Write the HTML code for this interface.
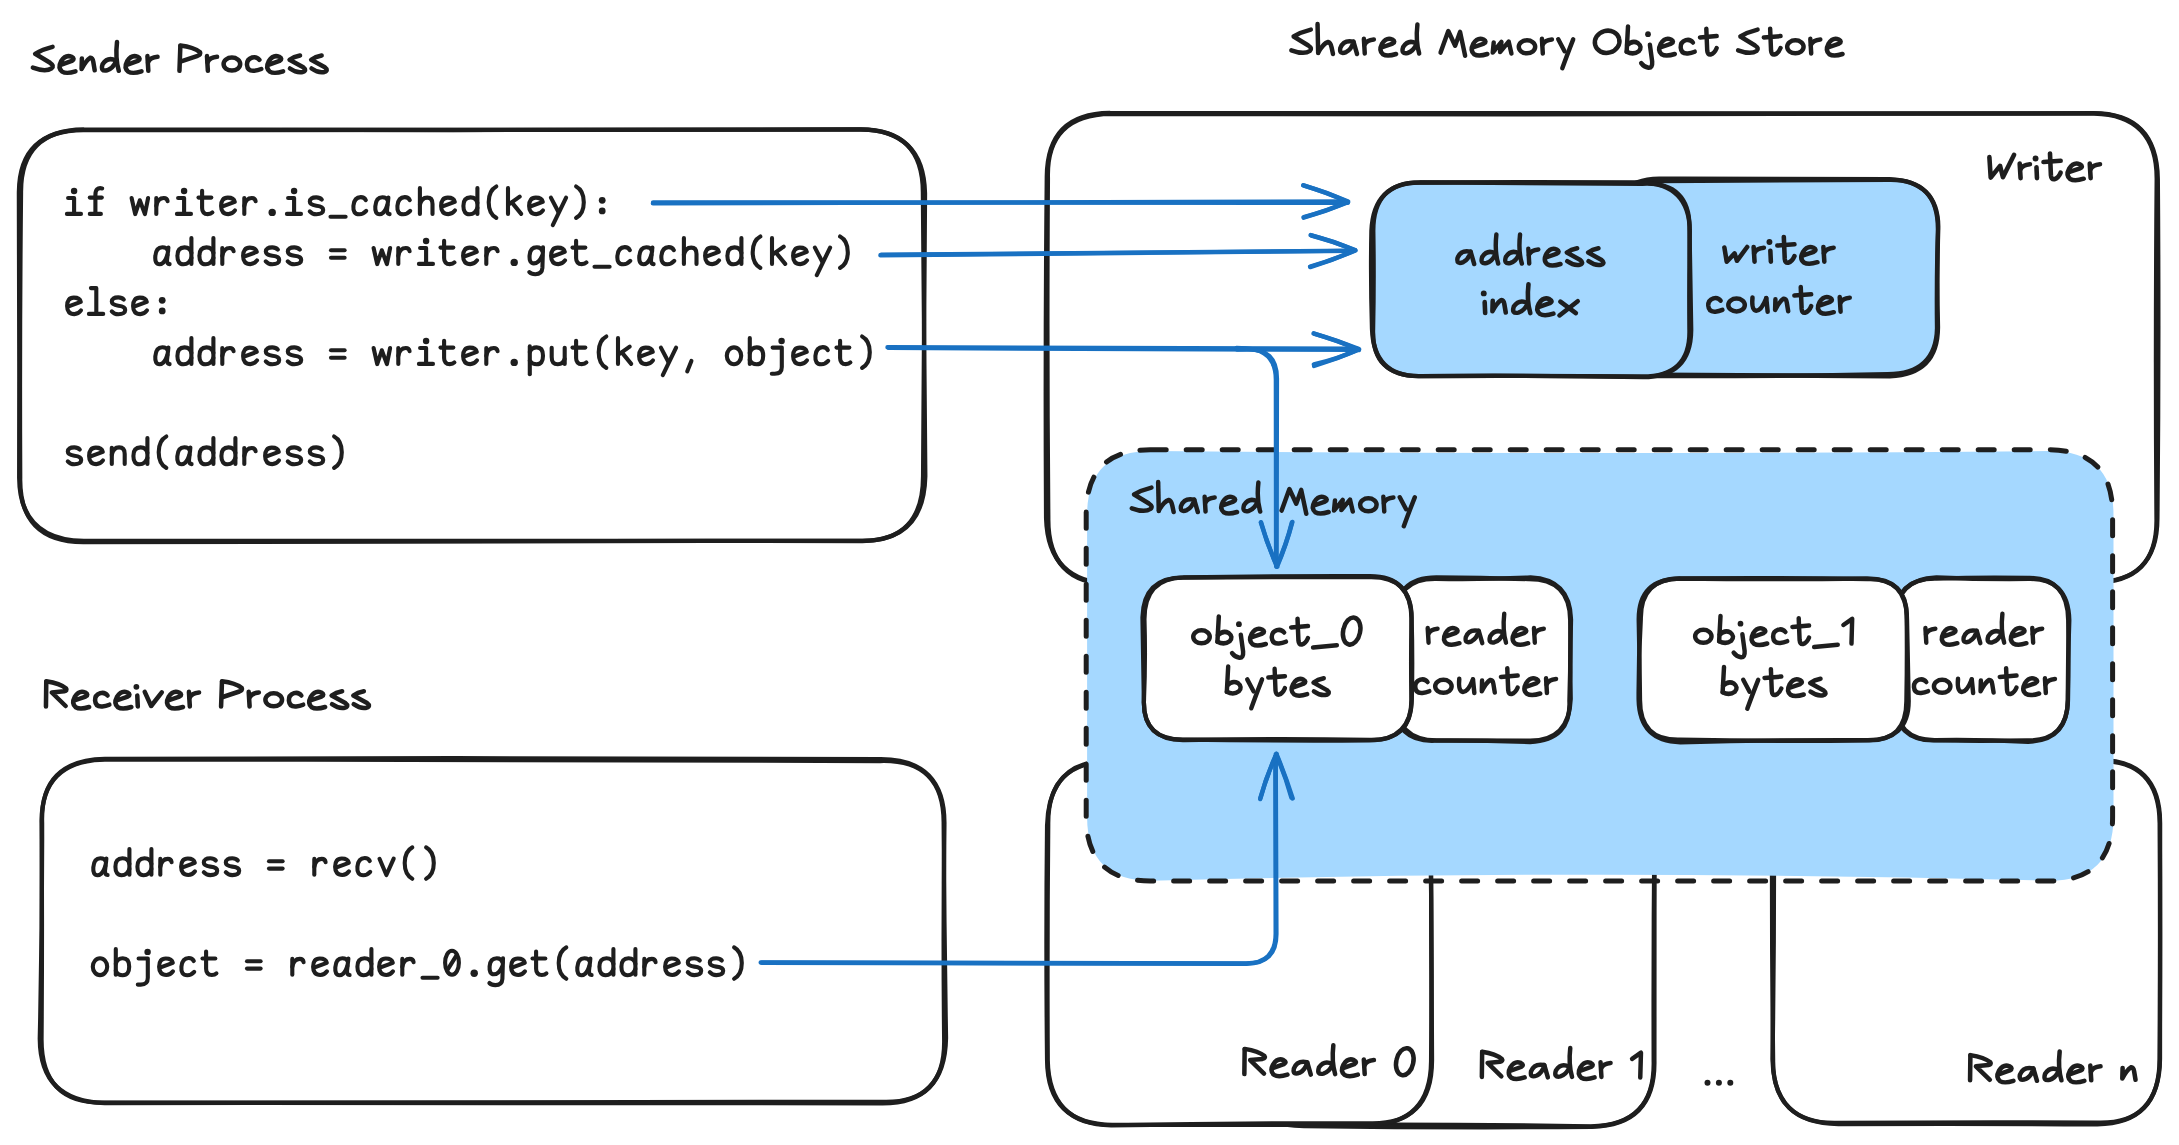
<!DOCTYPE html>
<html><head><meta charset="utf-8"><title>Shared Memory Object Store</title>
<style>
html,body{margin:0;padding:0;background:#fff;}
body{width:2179px;height:1145px;overflow:hidden;}
svg{display:block;}
.h{font-family:"Liberation Sans",sans-serif;fill:#1e1e1e;fill-opacity:0;stroke:none;}
.c{font-family:"Liberation Mono",monospace;fill:#1e1e1e;fill-opacity:0;stroke:none;white-space:pre;}
</style></head><body>
<svg width="2179" height="1145" viewBox="0 0 2179 1145">
<rect width="2179" height="1145" fill="#fff"/>
<path d="M83.3 130.2 Q471.2 128.5 859.0 129.5 Q922.8 128.4 922.9 192.3 Q924.5 334.3 925.3 476.2 Q923.8 542.0 860.4 540.9 Q472.1 540.5 83.9 541.0 Q19.7 540.0 19.2 477.9 Q19.6 335.1 18.9 192.3 Q19.4 130.3 83.3 130.2" fill="none" stroke="#1e1e1e" stroke-width="4.3" stroke-linejoin="round" stroke-linecap="round"/>
<path d="M83.6 129.5 Q471.8 130.5 860.0 129.4 Q923.6 130.0 925.0 193.2 Q924.1 334.5 923.1 475.9 Q923.1 541.7 861.2 541.0 Q472.2 540.6 83.2 542.2 Q19.0 541.5 20.2 477.6 Q19.5 335.0 21.0 192.4 Q20.5 130.2 83.6 129.5" fill="none" stroke="#1e1e1e" stroke-width="4.3" stroke-linejoin="round" stroke-linecap="round"/>
<path d="M104.9 759.7 Q492.5 759.0 880.1 761.0 Q944.3 759.0 943.7 824.0 Q944.2 931.0 946.0 1037.9 Q945.0 1104.1 881.1 1103.3 Q492.5 1103.6 103.8 1102.7 Q41.2 1103.7 41.5 1038.9 Q42.3 931.0 41.6 823.1 Q40.7 760.6 104.9 759.7" fill="none" stroke="#1e1e1e" stroke-width="4.3" stroke-linejoin="round" stroke-linecap="round"/>
<path d="M104.8 758.9 Q492.6 757.5 880.4 759.2 Q945.3 759.0 944.4 824.8 Q943.0 932.4 944.2 1040.0 Q945.2 1104.0 882.0 1101.8 Q493.3 1102.4 104.7 1103.0 Q40.2 1101.7 39.8 1038.8 Q42.3 930.9 42.1 823.0 Q39.9 760.1 104.8 758.9" fill="none" stroke="#1e1e1e" stroke-width="4.3" stroke-linejoin="round" stroke-linecap="round"/>
<path d="M1111.2 113.8 Q1602.2 115.1 2093.2 113.2 Q2156.7 113.4 2157.8 178.8 Q2159.1 348.5 2157.4 518.1 Q2157.5 582.9 2093.1 582.6 Q1601.7 583.7 1110.3 584.2 Q1047.5 583.4 1048.3 517.8 Q1046.7 348.0 1047.9 178.3 Q1046.0 114.7 1111.2 113.8" fill="none" stroke="#1e1e1e" stroke-width="4.3" stroke-linejoin="round" stroke-linecap="round"/>
<path d="M1109.7 113.0 Q1601.9 113.6 2094.1 113.5 Q2157.0 114.8 2156.7 179.0 Q2155.3 349.1 2156.5 519.1 Q2157.4 583.1 2092.8 581.9 Q1602.0 583.8 1111.2 583.9 Q1047.9 582.1 1046.1 518.3 Q1045.1 347.5 1046.8 176.8 Q1047.2 113.7 1109.7 113.0" fill="none" stroke="#1e1e1e" stroke-width="4.3" stroke-linejoin="round" stroke-linecap="round"/>
<path d="M1303.9 762.2 Q1447.7 761.0 1591.6 761.9 Q1655.8 763.2 1654.5 826.2 Q1653.3 943.9 1653.7 1061.5 Q1654.9 1125.8 1590.8 1126.3 Q1446.9 1124.1 1302.9 1125.0 Q1239.1 1124.2 1238.9 1062.3 Q1239.6 943.6 1240.5 824.8 Q1240.1 760.9 1303.9 762.2" fill="none" stroke="#1e1e1e" stroke-width="4.3" stroke-linejoin="round" stroke-linecap="round"/>
<path d="M1303.8 762.9 Q1447.2 763.9 1590.5 762.4 Q1655.2 761.7 1654.5 826.4 Q1654.3 943.7 1654.4 1060.9 Q1655.4 1125.2 1591.8 1126.8 Q1448.3 1128.0 1304.9 1126.0 Q1241.2 1126.4 1239.5 1060.8 Q1239.2 942.8 1239.5 824.9 Q1238.7 761.2 1303.8 762.9" fill="none" stroke="#1e1e1e" stroke-width="4.3" stroke-linejoin="round" stroke-linecap="round"/>
<path d="M1112 760.5 L1367.7 760.5 Q1431.7 760.5 1431.7 824.5 L1431.7 1060.5 Q1431.7 1124.5 1367.7 1124.5 L1112 1124.5 Q1048 1124.5 1048 1060.5 L1048 824.5 Q1048 760.5 1112 760.5 Z" fill="#fff" stroke="none"/>
<path d="M1111.9 760.9 Q1240.0 758.8 1368.1 759.6 Q1430.6 761.3 1430.4 824.2 Q1432.1 942.7 1431.1 1061.3 Q1430.6 1125.0 1368.2 1124.8 Q1240.2 1124.9 1112.2 1124.9 Q1047.6 1124.3 1047.1 1060.3 Q1045.8 942.9 1047.1 825.6 Q1048.9 759.2 1111.9 760.9" fill="none" stroke="#1e1e1e" stroke-width="4.3" stroke-linejoin="round" stroke-linecap="round"/>
<path d="M1113.3 761.7 Q1240.0 761.6 1366.7 760.3 Q1431.4 759.3 1430.8 824.0 Q1431.9 941.8 1432.0 1059.6 Q1432.3 1125.7 1368.2 1123.3 Q1239.7 1123.1 1111.1 1125.3 Q1049.2 1124.9 1047.7 1060.3 Q1047.1 942.4 1048.2 824.4 Q1047.6 760.1 1113.3 761.7" fill="none" stroke="#1e1e1e" stroke-width="4.3" stroke-linejoin="round" stroke-linecap="round"/>
<path d="M1836.4 760.5 Q1966.7 762.1 2097.0 760.9 Q2159.2 759.4 2159.7 823.3 Q2160.6 941.1 2159.6 1058.9 Q2159.6 1124.6 2097.1 1122.6 Q1967.1 1122.0 1837.1 1122.9 Q1773.8 1124.4 1772.5 1059.4 Q1774.3 941.9 1773.9 824.3 Q1773.8 760.6 1836.4 760.5" fill="none" stroke="#1e1e1e" stroke-width="4.3" stroke-linejoin="round" stroke-linecap="round"/>
<path d="M1837.0 760.7 Q1966.8 759.1 2096.7 759.8 Q2160.4 759.2 2160.1 823.8 Q2160.1 941.2 2160.0 1058.6 Q2159.7 1123.7 2097.3 1124.4 Q1967.8 1123.4 1838.3 1124.1 Q1772.4 1123.5 1773.1 1060.2 Q1771.7 942.4 1772.1 824.5 Q1773.3 759.7 1837.0 760.7" fill="none" stroke="#1e1e1e" stroke-width="4.3" stroke-linejoin="round" stroke-linecap="round"/>
<path d="M1151.1000000000001 451.1 Q1600.3000000000002 455.1 2049.5 451.1 Q2113.5 451.1 2113.5 515.1 L2113.5 816.7 Q2113.5 880.7 2049.5 880.7 Q1600.3000000000002 868.7 1151.1000000000001 880.7 Q1087.1000000000001 880.7 1087.1000000000001 816.7 L1087.1000000000001 515.1 Q1087.1000000000001 451.1 1151.1000000000001 451.1 Z" fill="#a5d8ff" stroke="none"/>
<path d="M1150.2 449.8 L2048.6 449.8 Q2112.6 449.8 2112.6 513.8 L2112.6 817 Q2112.6 881 2048.6 881 L1150.2 881 Q1086.2 881 1086.2 817 L1086.2 513.8 Q1086.2 449.8 1150.2 449.8 Z" fill="none" stroke="#1e1e1e" stroke-width="5.0" stroke-linejoin="round" stroke-linecap="round" stroke-dasharray="16 20"/>
<path d="M1658 180 L1889 180 Q1937 180 1937 228 L1937 327 Q1937 375 1889 375 L1658 375 Q1610 375 1610 327 L1610 228 Q1610 180 1658 180 Z" fill="#a5d8ff" stroke="none"/>
<path d="M1659.2 178.7 Q1774.4 178.7 1889.6 179.1 Q1937.9 181.0 1938.3 226.7 Q1936.8 277.1 1938.0 327.5 Q1937.8 374.3 1889.9 376.3 Q1773.6 375.6 1657.3 374.6 Q1611.1 375.0 1610.5 326.4 Q1609.5 276.9 1609.4 227.3 Q1609.3 179.9 1659.2 178.7" fill="none" stroke="#1e1e1e" stroke-width="4.3" stroke-linejoin="round" stroke-linecap="round"/>
<path d="M1658.2 181.1 Q1773.8 180.4 1889.4 179.8 Q1938.0 179.0 1937.9 229.3 Q1936.4 278.7 1937.0 328.2 Q1936.0 373.8 1887.7 374.1 Q1772.4 376.5 1657.1 376.1 Q1609.9 375.9 1610.5 327.6 Q1609.5 277.8 1609.4 228.0 Q1610.1 179.7 1658.2 181.1" fill="none" stroke="#1e1e1e" stroke-width="4.3" stroke-linejoin="round" stroke-linecap="round"/>
<path d="M1420.5 182.6 L1642 182.6 Q1690 182.6 1690 230.6 L1690 329 Q1690 377 1642 377 L1420.5 377 Q1372.5 377 1372.5 329 L1372.5 230.6 Q1372.5 182.6 1420.5 182.6 Z" fill="#a5d8ff" stroke="none"/>
<path d="M1420.1 182.5 Q1531.0 181.6 1641.8 182.5 Q1689.4 183.6 1689.8 231.0 Q1689.0 280.2 1689.4 329.4 Q1690.8 377.4 1640.7 376.5 Q1530.4 375.5 1420.1 376.1 Q1371.3 376.9 1373.1 328.5 Q1374.1 280.1 1373.3 231.8 Q1372.8 182.1 1420.1 182.5" fill="none" stroke="#1e1e1e" stroke-width="4.3" stroke-linejoin="round" stroke-linecap="round"/>
<path d="M1420.1 182.4 Q1531.2 183.4 1642.4 183.8 Q1690.6 181.3 1689.5 229.4 Q1690.3 279.6 1691.2 329.9 Q1690.9 377.0 1642.8 377.1 Q1531.3 375.1 1419.8 376.1 Q1373.6 376.9 1372.0 328.9 Q1370.5 280.0 1371.4 231.1 Q1373.3 182.5 1420.1 182.4" fill="none" stroke="#1e1e1e" stroke-width="4.3" stroke-linejoin="round" stroke-linecap="round"/>
<path d="M1436 578 L1529.3 578 Q1570.3 578 1570.3 619 L1570.3 700 Q1570.3 741 1529.3 741 L1436 741 Q1395 741 1395 700 L1395 619 Q1395 578 1436 578 Z" fill="#fff" stroke="none"/>
<path d="M1436.1 578.8 Q1483.3 579.6 1530.5 577.5 Q1570.0 579.3 1571.0 619.5 Q1569.9 659.3 1570.7 699.0 Q1569.2 741.8 1528.1 740.7 Q1482.4 740.7 1436.6 740.4 Q1396.0 740.1 1395.0 699.5 Q1396.7 659.8 1395.9 620.2 Q1395.5 578.2 1436.1 578.8" fill="none" stroke="#1e1e1e" stroke-width="4.3" stroke-linejoin="round" stroke-linecap="round"/>
<path d="M1436.4 577.5 Q1482.3 577.6 1528.2 579.1 Q1570.0 578.7 1570.2 620.3 Q1570.7 660.6 1569.4 700.8 Q1571.3 740.3 1530.1 742.1 Q1482.4 740.4 1434.7 740.7 Q1395.1 742.2 1393.8 700.7 Q1394.6 660.4 1394.6 620.2 Q1395.1 577.6 1436.4 577.5" fill="none" stroke="#1e1e1e" stroke-width="4.3" stroke-linejoin="round" stroke-linecap="round"/>
<path d="M1184.4 577 L1370.5 577 Q1411.5 577 1411.5 618 L1411.5 699.5 Q1411.5 740.5 1370.5 740.5 L1184.4 740.5 Q1143.4 740.5 1143.4 699.5 L1143.4 618 Q1143.4 577 1184.4 577 Z" fill="#fff" stroke="none"/>
<path d="M1183.6 577.4 Q1276.8 575.9 1370.1 576.2 Q1410.8 576.3 1411.5 618.0 Q1410.8 658.7 1411.4 699.4 Q1412.1 740.7 1369.9 739.9 Q1277.4 738.4 1184.9 740.0 Q1142.6 741.0 1143.9 700.2 Q1145.6 659.7 1144.4 619.2 Q1144.4 577.9 1183.6 577.4" fill="none" stroke="#1e1e1e" stroke-width="4.3" stroke-linejoin="round" stroke-linecap="round"/>
<path d="M1183.7 577.6 Q1277.1 576.9 1370.6 577.2 Q1412.0 576.8 1411.6 618.8 Q1412.7 658.9 1411.8 699.0 Q1411.3 740.4 1369.5 740.4 Q1277.5 741.0 1185.5 739.6 Q1142.4 741.0 1143.9 699.8 Q1143.3 658.5 1142.5 617.2 Q1143.6 577.1 1183.7 577.6" fill="none" stroke="#1e1e1e" stroke-width="4.3" stroke-linejoin="round" stroke-linecap="round"/>
<path d="M1936 578 L2027.5 578 Q2068.5 578 2068.5 619 L2068.5 700 Q2068.5 741 2027.5 741 L1936 741 Q1895 741 1895 700 L1895 619 Q1895 578 1936 578 Z" fill="#fff" stroke="none"/>
<path d="M1936.5 578.7 Q1982.0 577.1 2027.6 578.0 Q2067.7 576.9 2068.2 620.3 Q2068.8 659.7 2068.0 699.1 Q2067.7 741.1 2026.9 740.4 Q1981.2 741.2 1935.6 740.4 Q1894.7 741.6 1894.0 699.5 Q1893.9 659.4 1894.5 619.2 Q1895.8 577.8 1936.5 578.7" fill="none" stroke="#1e1e1e" stroke-width="4.3" stroke-linejoin="round" stroke-linecap="round"/>
<path d="M1936.4 577.5 Q1982.5 579.4 2028.6 578.9 Q2068.4 577.9 2069.3 620.2 Q2067.7 660.1 2067.8 700.1 Q2067.5 740.9 2028.1 741.8 Q1981.9 739.4 1935.7 740.1 Q1895.0 740.7 1895.3 699.0 Q1895.0 658.3 1895.5 617.7 Q1896.0 579.0 1936.4 577.5" fill="none" stroke="#1e1e1e" stroke-width="4.3" stroke-linejoin="round" stroke-linecap="round"/>
<path d="M1680.6 578 L1866.6 578 Q1907.6 578 1907.6 619 L1907.6 700 Q1907.6 741 1866.6 741 L1680.6 741 Q1639.6 741 1639.6 700 L1639.6 619 Q1639.6 578 1680.6 578 Z" fill="#fff" stroke="none"/>
<path d="M1681.7 578.5 Q1774.5 577.4 1867.3 579.1 Q1906.8 577.5 1907.0 619.4 Q1908.0 660.2 1908.7 701.0 Q1908.7 740.6 1866.8 740.1 Q1773.6 739.7 1680.4 742.3 Q1639.4 741.3 1638.6 699.5 Q1638.4 659.2 1640.8 618.9 Q1640.4 578.0 1681.7 578.5" fill="none" stroke="#1e1e1e" stroke-width="4.3" stroke-linejoin="round" stroke-linecap="round"/>
<path d="M1679.8 578.5 Q1772.9 579.7 1866.0 578.5 Q1907.9 577.9 1906.7 618.0 Q1907.2 659.3 1906.4 700.5 Q1906.7 741.4 1867.5 740.3 Q1773.7 741.6 1679.9 739.7 Q1639.7 740.8 1640.0 699.5 Q1639.6 659.4 1638.7 619.4 Q1638.7 579.1 1679.8 578.5" fill="none" stroke="#1e1e1e" stroke-width="4.3" stroke-linejoin="round" stroke-linecap="round"/>
<path d="M653.1 202.5 L1347.8 202.8" fill="none" stroke="#1971c2" stroke-width="4.4" stroke-linecap="round" stroke-linejoin="round"/>
<path d="M652.9 203.3 L1346.5 201.5" fill="none" stroke="#1971c2" stroke-width="4.4" stroke-linecap="round" stroke-linejoin="round"/>
<path d="M1303.6 217.7 Q1326.7 211.0 1348.0 202.2 M1303.1 185.3 Q1326.7 192.2 1347.8 201.9" fill="none" stroke="#1971c2" stroke-width="4.4" stroke-linecap="round" stroke-linejoin="round"/>
<path d="M1303.7 217.2 Q1326.7 211.0 1348.1 201.8 M1303.8 185.3 Q1326.7 192.2 1348.2 201.4" fill="none" stroke="#1971c2" stroke-width="4.4" stroke-linecap="round" stroke-linejoin="round"/>
<path d="M880.4 255.2 L1352.9 250.9" fill="none" stroke="#1971c2" stroke-width="4.4" stroke-linecap="round" stroke-linejoin="round"/>
<path d="M881.2 254.8 L1353.7 250.6" fill="none" stroke="#1971c2" stroke-width="4.4" stroke-linecap="round" stroke-linejoin="round"/>
<path d="M1310.1 266.5 Q1333.7 259.9 1355.3 250.3 M1311.5 235.5 Q1333.6 241.2 1355.1 250.0" fill="none" stroke="#1971c2" stroke-width="4.4" stroke-linecap="round" stroke-linejoin="round"/>
<path d="M1310.3 267.1 Q1333.7 259.9 1355.4 250.4 M1310.6 235.1 Q1333.6 241.2 1354.9 250.3" fill="none" stroke="#1971c2" stroke-width="4.4" stroke-linecap="round" stroke-linejoin="round"/>
<path d="M888.9 347.9 L1357.4 349.9" fill="none" stroke="#1971c2" stroke-width="4.4" stroke-linecap="round" stroke-linejoin="round"/>
<path d="M887.5 347.2 L1357.2 348.8" fill="none" stroke="#1971c2" stroke-width="4.4" stroke-linecap="round" stroke-linejoin="round"/>
<path d="M1314.1 366.0 Q1337.1 359.0 1359.1 349.2 M1313.6 333.3 Q1337.2 340.3 1359.1 349.1" fill="none" stroke="#1971c2" stroke-width="4.4" stroke-linecap="round" stroke-linejoin="round"/>
<path d="M1313.8 364.4 Q1337.1 359.0 1358.3 349.7 M1313.8 333.7 Q1337.2 340.3 1359.0 350.0" fill="none" stroke="#1971c2" stroke-width="4.4" stroke-linecap="round" stroke-linejoin="round"/>
<path d="M1236.8 349.5 L1246.9 349.2 Q1276.9 348.5 1276.9 378.5 L1276.5 565.4" fill="none" stroke="#1971c2" stroke-width="4.4" stroke-linecap="round" stroke-linejoin="round"/>
<path d="M1236.6 347.9 L1245.9 348.4 Q1275.9 349.7 1275.9 379.7 L1276.1 565.3" fill="none" stroke="#1971c2" stroke-width="4.4" stroke-linecap="round" stroke-linejoin="round"/>
<path d="M1260.9 522.6 Q1267.5 545.0 1277.3 566.7 M1292.4 521.9 Q1286.3 545.0 1277.0 566.8" fill="none" stroke="#1971c2" stroke-width="4.4" stroke-linecap="round" stroke-linejoin="round"/>
<path d="M1261.0 522.2 Q1267.5 545.0 1276.9 566.3 M1291.9 522.4 Q1286.3 545.0 1276.4 566.7" fill="none" stroke="#1971c2" stroke-width="4.4" stroke-linecap="round" stroke-linejoin="round"/>
<path d="M761.7 962.7 L1246.5 963.7 Q1276.5 963.8 1276.4 933.8 L1275.7 756.5" fill="none" stroke="#1971c2" stroke-width="4.4" stroke-linecap="round" stroke-linejoin="round"/>
<path d="M760.7 962.4 L1245.7 963.4 Q1275.7 963.5 1275.7 933.5 L1275.4 756.3" fill="none" stroke="#1971c2" stroke-width="4.4" stroke-linecap="round" stroke-linejoin="round"/>
<path d="M1291.4 797.6 Q1285.4 775.6 1275.9 753.9 M1260.2 799.1 Q1266.6 775.6 1276.5 753.7" fill="none" stroke="#1971c2" stroke-width="4.4" stroke-linecap="round" stroke-linejoin="round"/>
<path d="M1292.7 798.5 Q1285.4 775.6 1276.6 754.4 M1260.4 797.8 Q1266.6 775.6 1276.5 754.6" fill="none" stroke="#1971c2" stroke-width="4.4" stroke-linecap="round" stroke-linejoin="round"/>
<text class="h" x="30.6" y="72.8" font-size="40" textLength="298.4" lengthAdjust="spacingAndGlyphs">Sender Process</text>
<g id="t0" transform="translate(29.55 70.8) scale(1.0007 1)" fill="none" stroke="#1e1e1e" stroke-width="4.5" stroke-linecap="round" stroke-linejoin="round"><path transform="translate(0.00 0)" d="M23 -23.9 Q13 -21.5 5.6 -17 L20.5 -8 Q25 -5 22 -2.5 Q16 1.5 3.3 -3.2"/><path transform="translate(26.50 0)" d="M4.7 -6 L15.8 -9.9 Q19.4 -11.8 15.5 -14 Q9.5 -16.6 5 -9.5 Q1.5 -3 6 0.8 Q10.5 3.5 19.4 0.5"/><path transform="translate(48.50 0)" d="M3.8 -12.4 L3.5 -1.8 Q8 -10.5 12 -13 Q14.5 -13.5 15.2 -9 L16.6 -0.5"/><path transform="translate(68.50 0)" d="M18.9 -28.9 Q17 -12 20.7 0"/><path transform="translate(68.50 0)" d="M18 -10 Q9.7 -14.5 4.5 -6.5 Q2 1 9 -0.5 Q14.5 -2 17.8 -9"/><path transform="translate(92.50 0)" d="M4.7 -6 L15.8 -9.9 Q19.4 -11.8 15.5 -14 Q9.5 -16.6 5 -9.5 Q1.5 -3 6 0.8 Q10.5 3.5 19.4 0.5"/><path transform="translate(114.50 0)" d="M3.3 -14.7 L4.2 0"/><path transform="translate(114.50 0)" d="M3.9 -8.5 Q6 -13.5 13.4 -14"/><path transform="translate(146.00 0)" d="M4.7 -24.8 L3.8 0"/><path transform="translate(146.00 0)" d="M4.7 -25.2 Q18 -23.5 24.4 -18.5 Q25.5 -16.5 22 -15 L5.5 -9.5"/><path transform="translate(174.00 0)" d="M3.3 -14.7 L4.2 0"/><path transform="translate(174.00 0)" d="M3.9 -8.5 Q6 -13.5 13.4 -14"/><path transform="translate(190.50 0)" d="M3.4 -6.7 A8.3 6.5 0 1 1 20 -6.7 A8.3 6.5 0 1 1 3.4 -6.7 Z"/><path transform="translate(214.00 0)" d="M15.7 -11 Q13 -14.5 8.5 -13.3 Q3 -11.5 3.3 -6 Q3.8 0.5 10.5 0 Q14 -0.3 17.5 -1.8"/><path transform="translate(234.00 0)" d="M4.7 -6 L15.8 -9.9 Q19.4 -11.8 15.5 -14 Q9.5 -16.6 5 -9.5 Q1.5 -3 6 0.8 Q10.5 3.5 19.4 0.5"/><path transform="translate(256.00 0)" d="M14.3 -15.3 Q8 -14 3.8 -11 L17.5 -3.5 Q21.5 -0.5 17 1.2 Q11 2.5 4.2 -2.3"/><path transform="translate(277.60 0)" d="M14.3 -15.3 Q8 -14 3.8 -11 L17.5 -3.5 Q21.5 -0.5 17 1.2 Q11 2.5 4.2 -2.3"/><g fill="#1e1e1e" stroke="none"></g></g>
<text class="h" x="43.7" y="708.5" font-size="40" textLength="327.5" lengthAdjust="spacingAndGlyphs">Receiver Process</text>
<g id="t1" transform="translate(42.04 706.5) scale(1.0047 1)" fill="none" stroke="#1e1e1e" stroke-width="4.5" stroke-linecap="round" stroke-linejoin="round"><path transform="translate(0.00 0)" d="M4.2 -24.8 L3.9 0"/><path transform="translate(0.00 0)" d="M4.2 -25.2 Q18 -23 24 -18 Q25.5 -16 22 -15.2 L9.7 -14 L23.5 -0.5"/><path transform="translate(27.50 0)" d="M4.7 -6 L15.8 -9.9 Q19.4 -11.8 15.5 -14 Q9.5 -16.6 5 -9.5 Q1.5 -3 6 0.8 Q10.5 3.5 19.4 0.5"/><path transform="translate(49.50 0)" d="M15.7 -11 Q13 -14.5 8.5 -13.3 Q3 -11.5 3.3 -6 Q3.8 0.5 10.5 0 Q14 -0.3 17.5 -1.8"/><path transform="translate(69.50 0)" d="M4.7 -6 L15.8 -9.9 Q19.4 -11.8 15.5 -14 Q9.5 -16.6 5 -9.5 Q1.5 -3 6 0.8 Q10.5 3.5 19.4 0.5"/><path transform="translate(91.50 0)" d="M3.3 -11 L3.8 0"/><path transform="translate(98.90 0)" d="M3.3 -14.7 L9.7 -0.5 L20.3 -14.2"/><path transform="translate(120.90 0)" d="M4.7 -6 L15.8 -9.9 Q19.4 -11.8 15.5 -14 Q9.5 -16.6 5 -9.5 Q1.5 -3 6 0.8 Q10.5 3.5 19.4 0.5"/><path transform="translate(142.90 0)" d="M3.3 -14.7 L4.2 0"/><path transform="translate(142.90 0)" d="M3.9 -8.5 Q6 -13.5 13.4 -14"/><path transform="translate(174.40 0)" d="M4.7 -24.8 L3.8 0"/><path transform="translate(174.40 0)" d="M4.7 -25.2 Q18 -23.5 24.4 -18.5 Q25.5 -16.5 22 -15 L5.5 -9.5"/><path transform="translate(202.40 0)" d="M3.3 -14.7 L4.2 0"/><path transform="translate(202.40 0)" d="M3.9 -8.5 Q6 -13.5 13.4 -14"/><path transform="translate(218.90 0)" d="M3.4 -6.7 A8.3 6.5 0 1 1 20 -6.7 A8.3 6.5 0 1 1 3.4 -6.7 Z"/><path transform="translate(242.40 0)" d="M15.7 -11 Q13 -14.5 8.5 -13.3 Q3 -11.5 3.3 -6 Q3.8 0.5 10.5 0 Q14 -0.3 17.5 -1.8"/><path transform="translate(262.40 0)" d="M4.7 -6 L15.8 -9.9 Q19.4 -11.8 15.5 -14 Q9.5 -16.6 5 -9.5 Q1.5 -3 6 0.8 Q10.5 3.5 19.4 0.5"/><path transform="translate(284.40 0)" d="M14.3 -15.3 Q8 -14 3.8 -11 L17.5 -3.5 Q21.5 -0.5 17 1.2 Q11 2.5 4.2 -2.3"/><path transform="translate(306.00 0)" d="M14.3 -15.3 Q8 -14 3.8 -11 L17.5 -3.5 Q21.5 -0.5 17 1.2 Q11 2.5 4.2 -2.3"/><g fill="#1e1e1e" stroke="none"><circle cx="93.90" cy="-19.7" r="2.9"/></g></g>
<text class="h" x="1289.1" y="55.5" font-size="40" textLength="555.7" lengthAdjust="spacingAndGlyphs">Shared Memory Object Store</text>
<g id="t2" transform="translate(1288.06 53.5) scale(0.9897 1)" fill="none" stroke="#1e1e1e" stroke-width="4.5" stroke-linecap="round" stroke-linejoin="round"><path transform="translate(0.00 0)" d="M23 -23.9 Q13 -21.5 5.6 -17 L20.5 -8 Q25 -5 22 -2.5 Q16 1.5 3.3 -3.2"/><path transform="translate(26.50 0)" d="M3.3 -29.4 L3.9 -0.5"/><path transform="translate(26.50 0)" d="M4.2 -1.4 Q9 -10 14 -11.5 Q16.5 -11 17.5 -6 L18.9 0.5"/><path transform="translate(49.00 0)" d="M16.6 -11.9 Q7 -13.8 3.8 -5.5 Q2.5 1.5 9.7 -1.4 Q15 -4 17.1 -11.5"/><path transform="translate(49.00 0)" d="M17.1 -11.9 L20.7 0.5"/><path transform="translate(73.30 0)" d="M3.3 -14.7 L4.2 0"/><path transform="translate(73.30 0)" d="M3.9 -8.5 Q6 -13.5 13.4 -14"/><path transform="translate(89.80 0)" d="M4.7 -6 L15.8 -9.9 Q19.4 -11.8 15.5 -14 Q9.5 -16.6 5 -9.5 Q1.5 -3 6 0.8 Q10.5 3.5 19.4 0.5"/><path transform="translate(111.80 0)" d="M18.9 -28.9 Q17 -12 20.7 0"/><path transform="translate(111.80 0)" d="M18 -10 Q9.7 -14.5 4.5 -6.5 Q2 1 9 -0.5 Q14.5 -2 17.8 -9"/><path transform="translate(150.80 0)" d="M3.3 -0.9 L11.1 -22.5 L18 -7.8 L23 -21.6 L28.1 2.3"/><path transform="translate(182.00 0)" d="M4.7 -6 L15.8 -9.9 Q19.4 -11.8 15.5 -14 Q9.5 -16.6 5 -9.5 Q1.5 -3 6 0.8 Q10.5 3.5 19.4 0.5"/><path transform="translate(204.00 0)" d="M3.8 -11 L2.8 -0.9 L11.6 -11.5 L10.2 -1.4 L18.9 -11.9 L21.7 0"/><path transform="translate(229.70 0)" d="M3.4 -6.7 A8.3 6.5 0 1 1 20 -6.7 A8.3 6.5 0 1 1 3.4 -6.7 Z"/><path transform="translate(253.20 0)" d="M3.3 -14.7 L4.2 0"/><path transform="translate(253.20 0)" d="M3.9 -8.5 Q6 -13.5 13.4 -14"/><path transform="translate(269.70 0)" d="M3.3 -14.2 L9.7 -2.3"/><path transform="translate(269.70 0)" d="M18.4 -14.2 Q12 2 7.4 14.7"/><path transform="translate(306.70 0)" d="M3.63 -8.46 A12.5 10.8 -15.0 1 1 27.77 -14.94 A12.5 10.8 -15.0 1 1 3.63 -8.46 Z"/><path transform="translate(337.90 0)" d="M5.6 -27.1 L4.2 -1.8"/><path transform="translate(337.90 0)" d="M4.7 -8.3 Q10 -13.5 15.5 -10.5 Q20.5 -6.5 16.5 -2.3 Q11 1.8 4.2 -1.8"/><path transform="translate(359.60 0)" d="M6 -8.7 L8.3 8 Q8.8 14.5 4.6 14.2 Q0 13.5 -2.8 9.6"/><path transform="translate(371.40 0)" d="M4.7 -6 L15.8 -9.9 Q19.4 -11.8 15.5 -14 Q9.5 -16.6 5 -9.5 Q1.5 -3 6 0.8 Q10.5 3.5 19.4 0.5"/><path transform="translate(393.40 0)" d="M15.7 -11 Q13 -14.5 8.5 -13.3 Q3 -11.5 3.3 -6 Q3.8 0.5 10.5 0 Q14 -0.3 17.5 -1.8"/><path transform="translate(413.40 0)" d="M9.2 -24.8 L10.1 -3 Q10.5 1.5 13.5 1 Q17.5 0 19.7 -5.5"/><path transform="translate(413.40 0)" d="M2.8 -16.1 L19.7 -17.4"/><path transform="translate(451.40 0)" d="M23 -23.9 Q13 -21.5 5.6 -17 L20.5 -8 Q25 -5 22 -2.5 Q16 1.5 3.3 -3.2"/><path transform="translate(477.90 0)" d="M9.2 -24.8 L10.1 -3 Q10.5 1.5 13.5 1 Q17.5 0 19.7 -5.5"/><path transform="translate(477.90 0)" d="M2.8 -16.1 L19.7 -17.4"/><path transform="translate(500.90 0)" d="M3.4 -6.7 A8.3 6.5 0 1 1 20 -6.7 A8.3 6.5 0 1 1 3.4 -6.7 Z"/><path transform="translate(524.40 0)" d="M3.3 -14.7 L4.2 0"/><path transform="translate(524.40 0)" d="M3.9 -8.5 Q6 -13.5 13.4 -14"/><path transform="translate(540.90 0)" d="M4.7 -6 L15.8 -9.9 Q19.4 -11.8 15.5 -14 Q9.5 -16.6 5 -9.5 Q1.5 -3 6 0.8 Q10.5 3.5 19.4 0.5"/><g fill="#1e1e1e" stroke="none"><circle cx="363.70" cy="-19.3" r="2.9"/></g></g>
<text class="h" x="1987.1" y="180.2" font-size="40" textLength="115.2" lengthAdjust="spacingAndGlyphs">Writer</text>
<g id="t3" transform="translate(1985.52 178.2) scale(1.0168 1)" fill="none" stroke="#1e1e1e" stroke-width="4.5" stroke-linecap="round" stroke-linejoin="round"><path transform="translate(0.00 0)" d="M3.8 -21.1 L5.1 -0.5 L14.3 -12.4 L17.1 -0.9 L28.1 -23.4"/><path transform="translate(30.30 0)" d="M3.3 -14.7 L4.2 0"/><path transform="translate(30.30 0)" d="M3.9 -8.5 Q6 -13.5 13.4 -14"/><path transform="translate(46.80 0)" d="M3.3 -11 L3.8 0"/><path transform="translate(54.20 0)" d="M9.2 -24.8 L10.1 -3 Q10.5 1.5 13.5 1 Q17.5 0 19.7 -5.5"/><path transform="translate(54.20 0)" d="M2.8 -16.1 L19.7 -17.4"/><path transform="translate(77.20 0)" d="M4.7 -6 L15.8 -9.9 Q19.4 -11.8 15.5 -14 Q9.5 -16.6 5 -9.5 Q1.5 -3 6 0.8 Q10.5 3.5 19.4 0.5"/><path transform="translate(99.20 0)" d="M3.3 -14.7 L4.2 0"/><path transform="translate(99.20 0)" d="M3.9 -8.5 Q6 -13.5 13.4 -14"/><g fill="#1e1e1e" stroke="none"><circle cx="49.20" cy="-19.7" r="2.9"/></g></g>
<text class="h" x="1455.1" y="265.5" font-size="40" textLength="150.6" lengthAdjust="spacingAndGlyphs">address</text>
<g id="t4" transform="translate(1453.77 263.5) scale(0.9864 1)" fill="none" stroke="#1e1e1e" stroke-width="4.5" stroke-linecap="round" stroke-linejoin="round"><path transform="translate(0.00 0)" d="M16.6 -11.9 Q7 -13.8 3.8 -5.5 Q2.5 1.5 9.7 -1.4 Q15 -4 17.1 -11.5"/><path transform="translate(0.00 0)" d="M17.1 -11.9 L20.7 0.5"/><path transform="translate(24.30 0)" d="M18.9 -28.9 Q17 -12 20.7 0"/><path transform="translate(24.30 0)" d="M18 -10 Q9.7 -14.5 4.5 -6.5 Q2 1 9 -0.5 Q14.5 -2 17.8 -9"/><path transform="translate(48.30 0)" d="M18.9 -28.9 Q17 -12 20.7 0"/><path transform="translate(48.30 0)" d="M18 -10 Q9.7 -14.5 4.5 -6.5 Q2 1 9 -0.5 Q14.5 -2 17.8 -9"/><path transform="translate(72.30 0)" d="M3.3 -14.7 L4.2 0"/><path transform="translate(72.30 0)" d="M3.9 -8.5 Q6 -13.5 13.4 -14"/><path transform="translate(88.80 0)" d="M4.7 -6 L15.8 -9.9 Q19.4 -11.8 15.5 -14 Q9.5 -16.6 5 -9.5 Q1.5 -3 6 0.8 Q10.5 3.5 19.4 0.5"/><path transform="translate(110.80 0)" d="M14.3 -15.3 Q8 -14 3.8 -11 L17.5 -3.5 Q21.5 -0.5 17 1.2 Q11 2.5 4.2 -2.3"/><path transform="translate(132.40 0)" d="M14.3 -15.3 Q8 -14 3.8 -11 L17.5 -3.5 Q21.5 -0.5 17 1.2 Q11 2.5 4.2 -2.3"/><g fill="#1e1e1e" stroke="none"></g></g>
<text class="h" x="1480.8" y="315.1" font-size="40" textLength="99.2" lengthAdjust="spacingAndGlyphs">index</text>
<g id="t5" transform="translate(1481.31 313.1) scale(1.0190 1)" fill="none" stroke="#1e1e1e" stroke-width="4.5" stroke-linecap="round" stroke-linejoin="round"><path transform="translate(0.00 0)" d="M3.3 -11 L3.8 0"/><path transform="translate(7.40 0)" d="M3.8 -12.4 L3.5 -1.8 Q8 -10.5 12 -13 Q14.5 -13.5 15.2 -9 L16.6 -0.5"/><path transform="translate(27.40 0)" d="M18.9 -28.9 Q17 -12 20.7 0"/><path transform="translate(27.40 0)" d="M18 -10 Q9.7 -14.5 4.5 -6.5 Q2 1 9 -0.5 Q14.5 -2 17.8 -9"/><path transform="translate(51.40 0)" d="M4.7 -6 L15.8 -9.9 Q19.4 -11.8 15.5 -14 Q9.5 -16.6 5 -9.5 Q1.5 -3 6 0.8 Q10.5 3.5 19.4 0.5"/><path transform="translate(73.40 0)" d="M4.2 -11.5 L19.4 0"/><path transform="translate(73.40 0)" d="M21.2 -11.9 L3.3 2.3"/><g fill="#1e1e1e" stroke="none"><circle cx="2.40" cy="-19.7" r="2.9"/></g></g>
<text class="h" x="1722.1" y="263.7" font-size="40" textLength="113.8" lengthAdjust="spacingAndGlyphs">writer</text>
<g id="t6" transform="translate(1721.04 261.7) scale(1.0125 1)" fill="none" stroke="#1e1e1e" stroke-width="4.5" stroke-linecap="round" stroke-linejoin="round"><path transform="translate(0.00 0)" d="M3.3 -14.2 L5.6 0 L13.4 -8.3 L15.7 -0.9 L25.8 -14.7"/><path transform="translate(28.90 0)" d="M3.3 -14.7 L4.2 0"/><path transform="translate(28.90 0)" d="M3.9 -8.5 Q6 -13.5 13.4 -14"/><path transform="translate(45.40 0)" d="M3.3 -11 L3.8 0"/><path transform="translate(52.80 0)" d="M9.2 -24.8 L10.1 -3 Q10.5 1.5 13.5 1 Q17.5 0 19.7 -5.5"/><path transform="translate(52.80 0)" d="M2.8 -16.1 L19.7 -17.4"/><path transform="translate(75.80 0)" d="M4.7 -6 L15.8 -9.9 Q19.4 -11.8 15.5 -14 Q9.5 -16.6 5 -9.5 Q1.5 -3 6 0.8 Q10.5 3.5 19.4 0.5"/><path transform="translate(97.80 0)" d="M3.3 -14.7 L4.2 0"/><path transform="translate(97.80 0)" d="M3.9 -8.5 Q6 -13.5 13.4 -14"/><g fill="#1e1e1e" stroke="none"><circle cx="47.80" cy="-19.7" r="2.9"/></g></g>
<text class="h" x="1706" y="313.7" font-size="40" textLength="146.0" lengthAdjust="spacingAndGlyphs">counter</text>
<g id="t7" transform="translate(1704.97 311.7) scale(0.9965 1)" fill="none" stroke="#1e1e1e" stroke-width="4.5" stroke-linecap="round" stroke-linejoin="round"><path transform="translate(0.00 0)" d="M15.7 -11 Q13 -14.5 8.5 -13.3 Q3 -11.5 3.3 -6 Q3.8 0.5 10.5 0 Q14 -0.3 17.5 -1.8"/><path transform="translate(20.00 0)" d="M3.4 -6.7 A8.3 6.5 0 1 1 20 -6.7 A8.3 6.5 0 1 1 3.4 -6.7 Z"/><path transform="translate(43.50 0)" d="M4.2 -14.2 Q3 -1.5 8 -1 Q13 -1 18 -13.3"/><path transform="translate(43.50 0)" d="M18 -13.8 L19.4 0"/><path transform="translate(66.90 0)" d="M3.8 -12.4 L3.5 -1.8 Q8 -10.5 12 -13 Q14.5 -13.5 15.2 -9 L16.6 -0.5"/><path transform="translate(86.90 0)" d="M9.2 -24.8 L10.1 -3 Q10.5 1.5 13.5 1 Q17.5 0 19.7 -5.5"/><path transform="translate(86.90 0)" d="M2.8 -16.1 L19.7 -17.4"/><path transform="translate(109.90 0)" d="M4.7 -6 L15.8 -9.9 Q19.4 -11.8 15.5 -14 Q9.5 -16.6 5 -9.5 Q1.5 -3 6 0.8 Q10.5 3.5 19.4 0.5"/><path transform="translate(131.90 0)" d="M3.3 -14.7 L4.2 0"/><path transform="translate(131.90 0)" d="M3.9 -8.5 Q6 -13.5 13.4 -14"/><g fill="#1e1e1e" stroke="none"></g></g>
<text class="h" x="1129.6" y="513.5" font-size="40" textLength="287.4" lengthAdjust="spacingAndGlyphs">Shared Memory</text>
<g id="t8" transform="translate(1128.56 511.5) scale(0.9934 1)" fill="none" stroke="#1e1e1e" stroke-width="4.5" stroke-linecap="round" stroke-linejoin="round"><path transform="translate(0.00 0)" d="M23 -23.9 Q13 -21.5 5.6 -17 L20.5 -8 Q25 -5 22 -2.5 Q16 1.5 3.3 -3.2"/><path transform="translate(26.50 0)" d="M3.3 -29.4 L3.9 -0.5"/><path transform="translate(26.50 0)" d="M4.2 -1.4 Q9 -10 14 -11.5 Q16.5 -11 17.5 -6 L18.9 0.5"/><path transform="translate(49.00 0)" d="M16.6 -11.9 Q7 -13.8 3.8 -5.5 Q2.5 1.5 9.7 -1.4 Q15 -4 17.1 -11.5"/><path transform="translate(49.00 0)" d="M17.1 -11.9 L20.7 0.5"/><path transform="translate(73.30 0)" d="M3.3 -14.7 L4.2 0"/><path transform="translate(73.30 0)" d="M3.9 -8.5 Q6 -13.5 13.4 -14"/><path transform="translate(89.80 0)" d="M4.7 -6 L15.8 -9.9 Q19.4 -11.8 15.5 -14 Q9.5 -16.6 5 -9.5 Q1.5 -3 6 0.8 Q10.5 3.5 19.4 0.5"/><path transform="translate(111.80 0)" d="M18.9 -28.9 Q17 -12 20.7 0"/><path transform="translate(111.80 0)" d="M18 -10 Q9.7 -14.5 4.5 -6.5 Q2 1 9 -0.5 Q14.5 -2 17.8 -9"/><path transform="translate(150.80 0)" d="M3.3 -0.9 L11.1 -22.5 L18 -7.8 L23 -21.6 L28.1 2.3"/><path transform="translate(182.00 0)" d="M4.7 -6 L15.8 -9.9 Q19.4 -11.8 15.5 -14 Q9.5 -16.6 5 -9.5 Q1.5 -3 6 0.8 Q10.5 3.5 19.4 0.5"/><path transform="translate(204.00 0)" d="M3.8 -11 L2.8 -0.9 L11.6 -11.5 L10.2 -1.4 L18.9 -11.9 L21.7 0"/><path transform="translate(229.70 0)" d="M3.4 -6.7 A8.3 6.5 0 1 1 20 -6.7 A8.3 6.5 0 1 1 3.4 -6.7 Z"/><path transform="translate(253.20 0)" d="M3.3 -14.7 L4.2 0"/><path transform="translate(253.20 0)" d="M3.9 -8.5 Q6 -13.5 13.4 -14"/><path transform="translate(269.70 0)" d="M3.3 -14.2 L9.7 -2.3"/><path transform="translate(269.70 0)" d="M18.4 -14.2 Q12 2 7.4 14.7"/><g fill="#1e1e1e" stroke="none"></g></g>
<text class="h" x="1191" y="645.5" font-size="40" textLength="171.7" lengthAdjust="spacingAndGlyphs">object_0</text>
<g id="t9" transform="translate(1189.86 643.5) scale(0.9951 1)" fill="none" stroke="#1e1e1e" stroke-width="4.5" stroke-linecap="round" stroke-linejoin="round"><path transform="translate(0.00 0)" d="M3.4 -6.7 A8.3 6.5 0 1 1 20 -6.7 A8.3 6.5 0 1 1 3.4 -6.7 Z"/><path transform="translate(23.50 0)" d="M5.6 -27.1 L4.2 -1.8"/><path transform="translate(23.50 0)" d="M4.7 -8.3 Q10 -13.5 15.5 -10.5 Q20.5 -6.5 16.5 -2.3 Q11 1.8 4.2 -1.8"/><path transform="translate(45.20 0)" d="M6 -8.7 L8.3 8 Q8.8 14.5 4.6 14.2 Q0 13.5 -2.8 9.6"/><path transform="translate(57.00 0)" d="M4.7 -6 L15.8 -9.9 Q19.4 -11.8 15.5 -14 Q9.5 -16.6 5 -9.5 Q1.5 -3 6 0.8 Q10.5 3.5 19.4 0.5"/><path transform="translate(79.00 0)" d="M15.7 -11 Q13 -14.5 8.5 -13.3 Q3 -11.5 3.3 -6 Q3.8 0.5 10.5 0 Q14 -0.3 17.5 -1.8"/><path transform="translate(99.00 0)" d="M9.2 -24.8 L10.1 -3 Q10.5 1.5 13.5 1 Q17.5 0 19.7 -5.5"/><path transform="translate(99.00 0)" d="M2.8 -16.1 L19.7 -17.4"/><path transform="translate(122.00 0)" d="M1.8 4.1 L25.7 1.8"/><path transform="translate(149.90 0)" d="M4.39 -14.17 A8.5 13.3 12.0 1 1 21.01 -10.63 A8.5 13.3 12.0 1 1 4.39 -14.17 Z"/><g fill="#1e1e1e" stroke="none"><circle cx="49.30" cy="-19.3" r="2.9"/></g></g>
<text class="h" x="1224.6" y="695.6" font-size="40" textLength="106.4" lengthAdjust="spacingAndGlyphs">bytes</text>
<g id="t10" transform="translate(1222.69 693.6) scale(0.9817 1)" fill="none" stroke="#1e1e1e" stroke-width="4.5" stroke-linecap="round" stroke-linejoin="round"><path transform="translate(0.00 0)" d="M5.6 -27.1 L4.2 -1.8"/><path transform="translate(0.00 0)" d="M4.7 -8.3 Q10 -13.5 15.5 -10.5 Q20.5 -6.5 16.5 -2.3 Q11 1.8 4.2 -1.8"/><path transform="translate(21.70 0)" d="M3.3 -14.2 L9.7 -2.3"/><path transform="translate(21.70 0)" d="M18.4 -14.2 Q12 2 7.4 14.7"/><path transform="translate(43.70 0)" d="M9.2 -24.8 L10.1 -3 Q10.5 1.5 13.5 1 Q17.5 0 19.7 -5.5"/><path transform="translate(43.70 0)" d="M2.8 -16.1 L19.7 -17.4"/><path transform="translate(66.70 0)" d="M4.7 -6 L15.8 -9.9 Q19.4 -11.8 15.5 -14 Q9.5 -16.6 5 -9.5 Q1.5 -3 6 0.8 Q10.5 3.5 19.4 0.5"/><path transform="translate(88.70 0)" d="M14.3 -15.3 Q8 -14 3.8 -11 L17.5 -3.5 Q21.5 -0.5 17 1.2 Q11 2.5 4.2 -2.3"/><g fill="#1e1e1e" stroke="none"></g></g>
<text class="h" x="1425.5" y="644.7" font-size="40" textLength="120.5" lengthAdjust="spacingAndGlyphs">reader</text>
<g id="t11" transform="translate(1424.47 642.7) scale(0.9765 1)" fill="none" stroke="#1e1e1e" stroke-width="4.5" stroke-linecap="round" stroke-linejoin="round"><path transform="translate(0.00 0)" d="M3.3 -14.7 L4.2 0"/><path transform="translate(0.00 0)" d="M3.9 -8.5 Q6 -13.5 13.4 -14"/><path transform="translate(16.50 0)" d="M4.7 -6 L15.8 -9.9 Q19.4 -11.8 15.5 -14 Q9.5 -16.6 5 -9.5 Q1.5 -3 6 0.8 Q10.5 3.5 19.4 0.5"/><path transform="translate(38.50 0)" d="M16.6 -11.9 Q7 -13.8 3.8 -5.5 Q2.5 1.5 9.7 -1.4 Q15 -4 17.1 -11.5"/><path transform="translate(38.50 0)" d="M17.1 -11.9 L20.7 0.5"/><path transform="translate(62.80 0)" d="M18.9 -28.9 Q17 -12 20.7 0"/><path transform="translate(62.80 0)" d="M18 -10 Q9.7 -14.5 4.5 -6.5 Q2 1 9 -0.5 Q14.5 -2 17.8 -9"/><path transform="translate(86.80 0)" d="M4.7 -6 L15.8 -9.9 Q19.4 -11.8 15.5 -14 Q9.5 -16.6 5 -9.5 Q1.5 -3 6 0.8 Q10.5 3.5 19.4 0.5"/><path transform="translate(108.80 0)" d="M3.3 -14.7 L4.2 0"/><path transform="translate(108.80 0)" d="M3.9 -8.5 Q6 -13.5 13.4 -14"/><g fill="#1e1e1e" stroke="none"></g></g>
<text class="h" x="1413" y="695" font-size="40" textLength="145.3" lengthAdjust="spacingAndGlyphs">counter</text>
<g id="t12" transform="translate(1411.97 693) scale(0.9917 1)" fill="none" stroke="#1e1e1e" stroke-width="4.5" stroke-linecap="round" stroke-linejoin="round"><path transform="translate(0.00 0)" d="M15.7 -11 Q13 -14.5 8.5 -13.3 Q3 -11.5 3.3 -6 Q3.8 0.5 10.5 0 Q14 -0.3 17.5 -1.8"/><path transform="translate(20.00 0)" d="M3.4 -6.7 A8.3 6.5 0 1 1 20 -6.7 A8.3 6.5 0 1 1 3.4 -6.7 Z"/><path transform="translate(43.50 0)" d="M4.2 -14.2 Q3 -1.5 8 -1 Q13 -1 18 -13.3"/><path transform="translate(43.50 0)" d="M18 -13.8 L19.4 0"/><path transform="translate(66.90 0)" d="M3.8 -12.4 L3.5 -1.8 Q8 -10.5 12 -13 Q14.5 -13.5 15.2 -9 L16.6 -0.5"/><path transform="translate(86.90 0)" d="M9.2 -24.8 L10.1 -3 Q10.5 1.5 13.5 1 Q17.5 0 19.7 -5.5"/><path transform="translate(86.90 0)" d="M2.8 -16.1 L19.7 -17.4"/><path transform="translate(109.90 0)" d="M4.7 -6 L15.8 -9.9 Q19.4 -11.8 15.5 -14 Q9.5 -16.6 5 -9.5 Q1.5 -3 6 0.8 Q10.5 3.5 19.4 0.5"/><path transform="translate(131.90 0)" d="M3.3 -14.7 L4.2 0"/><path transform="translate(131.90 0)" d="M3.9 -8.5 Q6 -13.5 13.4 -14"/><g fill="#1e1e1e" stroke="none"></g></g>
<text class="h" x="1692.9" y="645" font-size="40" textLength="161.5" lengthAdjust="spacingAndGlyphs">object_1</text>
<g id="t13" transform="translate(1691.76 643) scale(0.9884 1)" fill="none" stroke="#1e1e1e" stroke-width="4.5" stroke-linecap="round" stroke-linejoin="round"><path transform="translate(0.00 0)" d="M3.4 -6.7 A8.3 6.5 0 1 1 20 -6.7 A8.3 6.5 0 1 1 3.4 -6.7 Z"/><path transform="translate(23.50 0)" d="M5.6 -27.1 L4.2 -1.8"/><path transform="translate(23.50 0)" d="M4.7 -8.3 Q10 -13.5 15.5 -10.5 Q20.5 -6.5 16.5 -2.3 Q11 1.8 4.2 -1.8"/><path transform="translate(45.20 0)" d="M6 -8.7 L8.3 8 Q8.8 14.5 4.6 14.2 Q0 13.5 -2.8 9.6"/><path transform="translate(57.00 0)" d="M4.7 -6 L15.8 -9.9 Q19.4 -11.8 15.5 -14 Q9.5 -16.6 5 -9.5 Q1.5 -3 6 0.8 Q10.5 3.5 19.4 0.5"/><path transform="translate(79.00 0)" d="M15.7 -11 Q13 -14.5 8.5 -13.3 Q3 -11.5 3.3 -6 Q3.8 0.5 10.5 0 Q14 -0.3 17.5 -1.8"/><path transform="translate(99.00 0)" d="M9.2 -24.8 L10.1 -3 Q10.5 1.5 13.5 1 Q17.5 0 19.7 -5.5"/><path transform="translate(99.00 0)" d="M2.8 -16.1 L19.7 -17.4"/><path transform="translate(122.00 0)" d="M1.8 4.1 L25.7 1.8"/><path transform="translate(149.90 0)" d="M3.5 -18 L12.4 -24.2 L11.7 0.6"/><g fill="#1e1e1e" stroke="none"><circle cx="49.30" cy="-19.3" r="2.9"/></g></g>
<text class="h" x="1720.4" y="696" font-size="40" textLength="107.4" lengthAdjust="spacingAndGlyphs">bytes</text>
<g id="t14" transform="translate(1718.47 694) scale(0.9909 1)" fill="none" stroke="#1e1e1e" stroke-width="4.5" stroke-linecap="round" stroke-linejoin="round"><path transform="translate(0.00 0)" d="M5.6 -27.1 L4.2 -1.8"/><path transform="translate(0.00 0)" d="M4.7 -8.3 Q10 -13.5 15.5 -10.5 Q20.5 -6.5 16.5 -2.3 Q11 1.8 4.2 -1.8"/><path transform="translate(21.70 0)" d="M3.3 -14.2 L9.7 -2.3"/><path transform="translate(21.70 0)" d="M18.4 -14.2 Q12 2 7.4 14.7"/><path transform="translate(43.70 0)" d="M9.2 -24.8 L10.1 -3 Q10.5 1.5 13.5 1 Q17.5 0 19.7 -5.5"/><path transform="translate(43.70 0)" d="M2.8 -16.1 L19.7 -17.4"/><path transform="translate(66.70 0)" d="M4.7 -6 L15.8 -9.9 Q19.4 -11.8 15.5 -14 Q9.5 -16.6 5 -9.5 Q1.5 -3 6 0.8 Q10.5 3.5 19.4 0.5"/><path transform="translate(88.70 0)" d="M14.3 -15.3 Q8 -14 3.8 -11 L17.5 -3.5 Q21.5 -0.5 17 1.2 Q11 2.5 4.2 -2.3"/><g fill="#1e1e1e" stroke="none"></g></g>
<text class="h" x="1923.2" y="644.7" font-size="40" textLength="121.2" lengthAdjust="spacingAndGlyphs">reader</text>
<g id="t15" transform="translate(1922.17 642.7) scale(0.9822 1)" fill="none" stroke="#1e1e1e" stroke-width="4.5" stroke-linecap="round" stroke-linejoin="round"><path transform="translate(0.00 0)" d="M3.3 -14.7 L4.2 0"/><path transform="translate(0.00 0)" d="M3.9 -8.5 Q6 -13.5 13.4 -14"/><path transform="translate(16.50 0)" d="M4.7 -6 L15.8 -9.9 Q19.4 -11.8 15.5 -14 Q9.5 -16.6 5 -9.5 Q1.5 -3 6 0.8 Q10.5 3.5 19.4 0.5"/><path transform="translate(38.50 0)" d="M16.6 -11.9 Q7 -13.8 3.8 -5.5 Q2.5 1.5 9.7 -1.4 Q15 -4 17.1 -11.5"/><path transform="translate(38.50 0)" d="M17.1 -11.9 L20.7 0.5"/><path transform="translate(62.80 0)" d="M18.9 -28.9 Q17 -12 20.7 0"/><path transform="translate(62.80 0)" d="M18 -10 Q9.7 -14.5 4.5 -6.5 Q2 1 9 -0.5 Q14.5 -2 17.8 -9"/><path transform="translate(86.80 0)" d="M4.7 -6 L15.8 -9.9 Q19.4 -11.8 15.5 -14 Q9.5 -16.6 5 -9.5 Q1.5 -3 6 0.8 Q10.5 3.5 19.4 0.5"/><path transform="translate(108.80 0)" d="M3.3 -14.7 L4.2 0"/><path transform="translate(108.80 0)" d="M3.9 -8.5 Q6 -13.5 13.4 -14"/><g fill="#1e1e1e" stroke="none"></g></g>
<text class="h" x="1911.7" y="695" font-size="40" textLength="145.5" lengthAdjust="spacingAndGlyphs">counter</text>
<g id="t16" transform="translate(1910.67 693) scale(0.9931 1)" fill="none" stroke="#1e1e1e" stroke-width="4.5" stroke-linecap="round" stroke-linejoin="round"><path transform="translate(0.00 0)" d="M15.7 -11 Q13 -14.5 8.5 -13.3 Q3 -11.5 3.3 -6 Q3.8 0.5 10.5 0 Q14 -0.3 17.5 -1.8"/><path transform="translate(20.00 0)" d="M3.4 -6.7 A8.3 6.5 0 1 1 20 -6.7 A8.3 6.5 0 1 1 3.4 -6.7 Z"/><path transform="translate(43.50 0)" d="M4.2 -14.2 Q3 -1.5 8 -1 Q13 -1 18 -13.3"/><path transform="translate(43.50 0)" d="M18 -13.8 L19.4 0"/><path transform="translate(66.90 0)" d="M3.8 -12.4 L3.5 -1.8 Q8 -10.5 12 -13 Q14.5 -13.5 15.2 -9 L16.6 -0.5"/><path transform="translate(86.90 0)" d="M9.2 -24.8 L10.1 -3 Q10.5 1.5 13.5 1 Q17.5 0 19.7 -5.5"/><path transform="translate(86.90 0)" d="M2.8 -16.1 L19.7 -17.4"/><path transform="translate(109.90 0)" d="M4.7 -6 L15.8 -9.9 Q19.4 -11.8 15.5 -14 Q9.5 -16.6 5 -9.5 Q1.5 -3 6 0.8 Q10.5 3.5 19.4 0.5"/><path transform="translate(131.90 0)" d="M3.3 -14.7 L4.2 0"/><path transform="translate(131.90 0)" d="M3.9 -8.5 Q6 -13.5 13.4 -14"/><g fill="#1e1e1e" stroke="none"></g></g>
<text class="h" x="1242.1" y="1076.1" font-size="40" textLength="173.8" lengthAdjust="spacingAndGlyphs">Reader 0</text>
<g id="t17" transform="translate(1240.45 1074.1) scale(1.0021 1)" fill="none" stroke="#1e1e1e" stroke-width="4.5" stroke-linecap="round" stroke-linejoin="round"><path transform="translate(0.00 0)" d="M4.2 -24.8 L3.9 0"/><path transform="translate(0.00 0)" d="M4.2 -25.2 Q18 -23 24 -18 Q25.5 -16 22 -15.2 L9.7 -14 L23.5 -0.5"/><path transform="translate(27.50 0)" d="M4.7 -6 L15.8 -9.9 Q19.4 -11.8 15.5 -14 Q9.5 -16.6 5 -9.5 Q1.5 -3 6 0.8 Q10.5 3.5 19.4 0.5"/><path transform="translate(49.50 0)" d="M16.6 -11.9 Q7 -13.8 3.8 -5.5 Q2.5 1.5 9.7 -1.4 Q15 -4 17.1 -11.5"/><path transform="translate(49.50 0)" d="M17.1 -11.9 L20.7 0.5"/><path transform="translate(73.80 0)" d="M18.9 -28.9 Q17 -12 20.7 0"/><path transform="translate(73.80 0)" d="M18 -10 Q9.7 -14.5 4.5 -6.5 Q2 1 9 -0.5 Q14.5 -2 17.8 -9"/><path transform="translate(97.80 0)" d="M4.7 -6 L15.8 -9.9 Q19.4 -11.8 15.5 -14 Q9.5 -16.6 5 -9.5 Q1.5 -3 6 0.8 Q10.5 3.5 19.4 0.5"/><path transform="translate(119.80 0)" d="M3.3 -14.7 L4.2 0"/><path transform="translate(119.80 0)" d="M3.9 -8.5 Q6 -13.5 13.4 -14"/><path transform="translate(151.30 0)" d="M4.39 -14.17 A8.5 13.3 12.0 1 1 21.01 -10.63 A8.5 13.3 12.0 1 1 4.39 -14.17 Z"/><g fill="#1e1e1e" stroke="none"></g></g>
<text class="h" x="1479.6" y="1078.9" font-size="40" textLength="163.6" lengthAdjust="spacingAndGlyphs">Reader 1</text>
<g id="t18" transform="translate(1477.96 1076.9) scale(0.9957 1)" fill="none" stroke="#1e1e1e" stroke-width="4.5" stroke-linecap="round" stroke-linejoin="round"><path transform="translate(0.00 0)" d="M4.2 -24.8 L3.9 0"/><path transform="translate(0.00 0)" d="M4.2 -25.2 Q18 -23 24 -18 Q25.5 -16 22 -15.2 L9.7 -14 L23.5 -0.5"/><path transform="translate(27.50 0)" d="M4.7 -6 L15.8 -9.9 Q19.4 -11.8 15.5 -14 Q9.5 -16.6 5 -9.5 Q1.5 -3 6 0.8 Q10.5 3.5 19.4 0.5"/><path transform="translate(49.50 0)" d="M16.6 -11.9 Q7 -13.8 3.8 -5.5 Q2.5 1.5 9.7 -1.4 Q15 -4 17.1 -11.5"/><path transform="translate(49.50 0)" d="M17.1 -11.9 L20.7 0.5"/><path transform="translate(73.80 0)" d="M18.9 -28.9 Q17 -12 20.7 0"/><path transform="translate(73.80 0)" d="M18 -10 Q9.7 -14.5 4.5 -6.5 Q2 1 9 -0.5 Q14.5 -2 17.8 -9"/><path transform="translate(97.80 0)" d="M4.7 -6 L15.8 -9.9 Q19.4 -11.8 15.5 -14 Q9.5 -16.6 5 -9.5 Q1.5 -3 6 0.8 Q10.5 3.5 19.4 0.5"/><path transform="translate(119.80 0)" d="M3.3 -14.7 L4.2 0"/><path transform="translate(119.80 0)" d="M3.9 -8.5 Q6 -13.5 13.4 -14"/><path transform="translate(151.30 0)" d="M3.5 -18 L12.4 -24.2 L11.7 0.6"/><g fill="#1e1e1e" stroke="none"></g></g>
<text class="h" x="1704.5" y="1084.9" font-size="40" textLength="28.8" lengthAdjust="spacingAndGlyphs">...</text>
<g id="t19" transform="translate(1702.50 1082.9) scale(1.0000 1)" fill="none" stroke="#1e1e1e" stroke-width="4.5" stroke-linecap="round" stroke-linejoin="round"><g fill="#1e1e1e" stroke="none"><circle cx="5.00" cy="-0.2" r="3.0"/><circle cx="16.40" cy="-0.2" r="3.0"/><circle cx="27.80" cy="-0.2" r="3.0"/></g></g>
<text class="h" x="1967.8" y="1082.3" font-size="40" textLength="170.0" lengthAdjust="spacingAndGlyphs">Reader n</text>
<g id="t20" transform="translate(1966.14 1080.3) scale(1.0089 1)" fill="none" stroke="#1e1e1e" stroke-width="4.5" stroke-linecap="round" stroke-linejoin="round"><path transform="translate(0.00 0)" d="M4.2 -24.8 L3.9 0"/><path transform="translate(0.00 0)" d="M4.2 -25.2 Q18 -23 24 -18 Q25.5 -16 22 -15.2 L9.7 -14 L23.5 -0.5"/><path transform="translate(27.50 0)" d="M4.7 -6 L15.8 -9.9 Q19.4 -11.8 15.5 -14 Q9.5 -16.6 5 -9.5 Q1.5 -3 6 0.8 Q10.5 3.5 19.4 0.5"/><path transform="translate(49.50 0)" d="M16.6 -11.9 Q7 -13.8 3.8 -5.5 Q2.5 1.5 9.7 -1.4 Q15 -4 17.1 -11.5"/><path transform="translate(49.50 0)" d="M17.1 -11.9 L20.7 0.5"/><path transform="translate(73.80 0)" d="M18.9 -28.9 Q17 -12 20.7 0"/><path transform="translate(73.80 0)" d="M18 -10 Q9.7 -14.5 4.5 -6.5 Q2 1 9 -0.5 Q14.5 -2 17.8 -9"/><path transform="translate(97.80 0)" d="M4.7 -6 L15.8 -9.9 Q19.4 -11.8 15.5 -14 Q9.5 -16.6 5 -9.5 Q1.5 -3 6 0.8 Q10.5 3.5 19.4 0.5"/><path transform="translate(119.80 0)" d="M3.3 -14.7 L4.2 0"/><path transform="translate(119.80 0)" d="M3.9 -8.5 Q6 -13.5 13.4 -14"/><path transform="translate(151.30 0)" d="M3.8 -12.4 L3.5 -1.8 Q8 -10.5 12 -13 Q14.5 -13.5 15.2 -9 L16.6 -0.5"/><g fill="#1e1e1e" stroke="none"></g></g>
<text class="c" x="62.8" y="213.9" font-size="36.67">if writer.is_cached(key):</text>
<g transform="translate(62.8 213.9)" fill="none" stroke="#1e1e1e" stroke-width="4.1" stroke-linecap="round" stroke-linejoin="round"><path transform="translate(0 0)" d="M5.3 -15.9 L11.3 -15.9 L11.3 0"/><path transform="translate(0 0)" d="M4.1 0 L18.2 0"/><path transform="translate(22 0)" d="M17.4 -25.5 Q10.6 -27 10.6 -19 L10.6 0"/><path transform="translate(22 0)" d="M5 -16.3 L17 -16.3"/><path transform="translate(22 0)" d="M5 0 L16.1 0"/><path transform="translate(66 0)" d="M2.8 -15.9 L6.4 0.2 L11 -13.6 L16.1 0.2 L19.3 -15.9"/><path transform="translate(88 0)" d="M5.5 -15.9 L5.5 0"/><path transform="translate(88 0)" d="M5.5 -8 Q7 -15.9 13 -15.9 Q16.3 -15.9 16.8 -12.6"/><path transform="translate(110 0)" d="M5.3 -15.9 L11.3 -15.9 L11.3 0"/><path transform="translate(110 0)" d="M4.1 0 L18.2 0"/><path transform="translate(132 0)" d="M7.3 -23.2 L7.3 -6 Q7.3 0.2 13 0.2 Q16 0.2 17.6 -1.5"/><path transform="translate(132 0)" d="M3.7 -16.3 L16.5 -16.3"/><path transform="translate(154 0)" d="M4.5 -7 L18 -12 Q17 -16.3 11 -16.3 Q4.3 -16.3 4.3 -8 Q4.3 0.2 11.5 0.2 Q15.5 0.2 18.2 -3.5"/><path transform="translate(176 0)" d="M5.5 -15.9 L5.5 0"/><path transform="translate(176 0)" d="M5.5 -8 Q7 -15.9 13 -15.9 Q16.3 -15.9 16.8 -12.6"/><path transform="translate(220 0)" d="M5.3 -15.9 L11.3 -15.9 L11.3 0"/><path transform="translate(220 0)" d="M4.1 0 L18.2 0"/><path transform="translate(242 0)" d="M17 -14.3 Q15 -16.5 11.5 -16.5 Q5 -16.5 5 -12.3 Q5 -9 11.5 -8.2 Q18.4 -7.5 18.4 -4 Q18.4 0.3 11.5 0.3 Q7.5 0.3 5 -2.6"/><path transform="translate(264 0)" d="M3.7 2.9 L18.8 2.9"/><path transform="translate(286 0)" d="M17 -13.8 Q15.5 -16.8 12 -16.8 Q5.4 -16.8 4.6 -8 Q3.9 0.4 10.5 0.4 Q14.5 0.4 17.4 -3"/><path transform="translate(308 0)" d="M17.3 -13 Q16 -16.6 11.5 -16.6 Q5.2 -16.6 4.5 -7.5 Q3.9 0.4 8.8 0.4 Q13.5 0.4 16.6 -9"/><path transform="translate(308 0)" d="M17.6 -16.3 L16.2 -4 Q16 0 18.8 0.2"/><path transform="translate(330 0)" d="M17 -13.8 Q15.5 -16.8 12 -16.8 Q5.4 -16.8 4.6 -8 Q3.9 0.4 10.5 0.4 Q14.5 0.4 17.4 -3"/><path transform="translate(352 0)" d="M5.1 -25.8 L5.1 0"/><path transform="translate(352 0)" d="M5.1 -9 Q6.5 -16.3 12.5 -16.3 Q17.7 -16.3 17.7 -10 L17.7 0"/><path transform="translate(374 0)" d="M4.5 -7 L18 -12 Q17 -16.3 11 -16.3 Q4.3 -16.3 4.3 -8 Q4.3 0.2 11.5 0.2 Q15.5 0.2 18.2 -3.5"/><path transform="translate(396 0)" d="M18.6 -25.8 L18.6 0"/><path transform="translate(396 0)" d="M18.6 -11 Q17.5 -16.5 11.7 -16.5 Q4.6 -16.5 4.6 -8 Q4.6 0.4 10.8 0.4 Q16.5 0.4 18.6 -6"/><path transform="translate(418 0)" d="M15.5 -27.4 C10 -24.5 7.9 -18 7.9 -11.7 C7.9 -5.5 10 1 15.5 4"/><path transform="translate(440 0)" d="M5.2 -25.8 L5.2 0"/><path transform="translate(440 0)" d="M16.9 -17.2 L6 -9.5"/><path transform="translate(440 0)" d="M9 -11.5 L18.4 0"/><path transform="translate(462 0)" d="M4.5 -7 L18 -12 Q17 -16.3 11 -16.3 Q4.3 -16.3 4.3 -8 Q4.3 0.2 11.5 0.2 Q15.5 0.2 18.2 -3.5"/><path transform="translate(484 0)" d="M4.1 -16.3 L11.5 -2.1"/><path transform="translate(484 0)" d="M19.3 -16.3 L6 11.2"/><path transform="translate(506 0)" d="M7.3 -27.4 C12.8 -24.5 15 -18 15 -11.7 C15 -5.5 12.8 1 7.3 4"/><g fill="#1e1e1e" stroke="none"><circle cx="11.30" cy="-22.9" r="3.2"/><circle cx="121.30" cy="-22.9" r="3.2"/><circle cx="209.40" cy="-1.5" r="3.7"/><circle cx="231.30" cy="-22.9" r="3.2"/><circle cx="539.40" cy="-13.6" r="3.4"/><circle cx="539.40" cy="-3.0" r="3.4"/></g></g>
<text class="c" x="150.8" y="263.9" font-size="36.67">address = writer.get_cached(key)</text>
<g transform="translate(62.8 263.9)" fill="none" stroke="#1e1e1e" stroke-width="4.1" stroke-linecap="round" stroke-linejoin="round"><path transform="translate(88 0)" d="M17.3 -13 Q16 -16.6 11.5 -16.6 Q5.2 -16.6 4.5 -7.5 Q3.9 0.4 8.8 0.4 Q13.5 0.4 16.6 -9"/><path transform="translate(88 0)" d="M17.6 -16.3 L16.2 -4 Q16 0 18.8 0.2"/><path transform="translate(110 0)" d="M18.6 -25.8 L18.6 0"/><path transform="translate(110 0)" d="M18.6 -11 Q17.5 -16.5 11.7 -16.5 Q4.6 -16.5 4.6 -8 Q4.6 0.4 10.8 0.4 Q16.5 0.4 18.6 -6"/><path transform="translate(132 0)" d="M18.6 -25.8 L18.6 0"/><path transform="translate(132 0)" d="M18.6 -11 Q17.5 -16.5 11.7 -16.5 Q4.6 -16.5 4.6 -8 Q4.6 0.4 10.8 0.4 Q16.5 0.4 18.6 -6"/><path transform="translate(154 0)" d="M5.5 -15.9 L5.5 0"/><path transform="translate(154 0)" d="M5.5 -8 Q7 -15.9 13 -15.9 Q16.3 -15.9 16.8 -12.6"/><path transform="translate(176 0)" d="M4.5 -7 L18 -12 Q17 -16.3 11 -16.3 Q4.3 -16.3 4.3 -8 Q4.3 0.2 11.5 0.2 Q15.5 0.2 18.2 -3.5"/><path transform="translate(198 0)" d="M17 -14.3 Q15 -16.5 11.5 -16.5 Q5 -16.5 5 -12.3 Q5 -9 11.5 -8.2 Q18.4 -7.5 18.4 -4 Q18.4 0.3 11.5 0.3 Q7.5 0.3 5 -2.6"/><path transform="translate(220 0)" d="M17 -14.3 Q15 -16.5 11.5 -16.5 Q5 -16.5 5 -12.3 Q5 -9 11.5 -8.2 Q18.4 -7.5 18.4 -4 Q18.4 0.3 11.5 0.3 Q7.5 0.3 5 -2.6"/><path transform="translate(264 0)" d="M4.2 -13.6 L17.8 -13.6"/><path transform="translate(264 0)" d="M4.2 -6.2 L17.8 -6.2"/><path transform="translate(308 0)" d="M2.8 -15.9 L6.4 0.2 L11 -13.6 L16.1 0.2 L19.3 -15.9"/><path transform="translate(330 0)" d="M5.5 -15.9 L5.5 0"/><path transform="translate(330 0)" d="M5.5 -8 Q7 -15.9 13 -15.9 Q16.3 -15.9 16.8 -12.6"/><path transform="translate(352 0)" d="M5.3 -15.9 L11.3 -15.9 L11.3 0"/><path transform="translate(352 0)" d="M4.1 0 L18.2 0"/><path transform="translate(374 0)" d="M7.3 -23.2 L7.3 -6 Q7.3 0.2 13 0.2 Q16 0.2 17.6 -1.5"/><path transform="translate(374 0)" d="M3.7 -16.3 L16.5 -16.3"/><path transform="translate(396 0)" d="M4.5 -7 L18 -12 Q17 -16.3 11 -16.3 Q4.3 -16.3 4.3 -8 Q4.3 0.2 11.5 0.2 Q15.5 0.2 18.2 -3.5"/><path transform="translate(418 0)" d="M5.5 -15.9 L5.5 0"/><path transform="translate(418 0)" d="M5.5 -8 Q7 -15.9 13 -15.9 Q16.3 -15.9 16.8 -12.6"/><path transform="translate(462 0)" d="M17.8 -12.5 Q16.5 -16.6 12 -16.6 Q5.4 -16.6 4.8 -8.5 Q4.2 -0.5 9 -0.5 Q14 -0.5 17.3 -8"/><path transform="translate(462 0)" d="M18.2 -16.6 L17.6 4 Q17.2 10.3 10.5 10.3 Q6.5 10.3 4.6 8.2"/><path transform="translate(484 0)" d="M4.5 -7 L18 -12 Q17 -16.3 11 -16.3 Q4.3 -16.3 4.3 -8 Q4.3 0.2 11.5 0.2 Q15.5 0.2 18.2 -3.5"/><path transform="translate(506 0)" d="M7.3 -23.2 L7.3 -6 Q7.3 0.2 13 0.2 Q16 0.2 17.6 -1.5"/><path transform="translate(506 0)" d="M3.7 -16.3 L16.5 -16.3"/><path transform="translate(528 0)" d="M3.7 2.9 L18.8 2.9"/><path transform="translate(550 0)" d="M17 -13.8 Q15.5 -16.8 12 -16.8 Q5.4 -16.8 4.6 -8 Q3.9 0.4 10.5 0.4 Q14.5 0.4 17.4 -3"/><path transform="translate(572 0)" d="M17.3 -13 Q16 -16.6 11.5 -16.6 Q5.2 -16.6 4.5 -7.5 Q3.9 0.4 8.8 0.4 Q13.5 0.4 16.6 -9"/><path transform="translate(572 0)" d="M17.6 -16.3 L16.2 -4 Q16 0 18.8 0.2"/><path transform="translate(594 0)" d="M17 -13.8 Q15.5 -16.8 12 -16.8 Q5.4 -16.8 4.6 -8 Q3.9 0.4 10.5 0.4 Q14.5 0.4 17.4 -3"/><path transform="translate(616 0)" d="M5.1 -25.8 L5.1 0"/><path transform="translate(616 0)" d="M5.1 -9 Q6.5 -16.3 12.5 -16.3 Q17.7 -16.3 17.7 -10 L17.7 0"/><path transform="translate(638 0)" d="M4.5 -7 L18 -12 Q17 -16.3 11 -16.3 Q4.3 -16.3 4.3 -8 Q4.3 0.2 11.5 0.2 Q15.5 0.2 18.2 -3.5"/><path transform="translate(660 0)" d="M18.6 -25.8 L18.6 0"/><path transform="translate(660 0)" d="M18.6 -11 Q17.5 -16.5 11.7 -16.5 Q4.6 -16.5 4.6 -8 Q4.6 0.4 10.8 0.4 Q16.5 0.4 18.6 -6"/><path transform="translate(682 0)" d="M15.5 -27.4 C10 -24.5 7.9 -18 7.9 -11.7 C7.9 -5.5 10 1 15.5 4"/><path transform="translate(704 0)" d="M5.2 -25.8 L5.2 0"/><path transform="translate(704 0)" d="M16.9 -17.2 L6 -9.5"/><path transform="translate(704 0)" d="M9 -11.5 L18.4 0"/><path transform="translate(726 0)" d="M4.5 -7 L18 -12 Q17 -16.3 11 -16.3 Q4.3 -16.3 4.3 -8 Q4.3 0.2 11.5 0.2 Q15.5 0.2 18.2 -3.5"/><path transform="translate(748 0)" d="M4.1 -16.3 L11.5 -2.1"/><path transform="translate(748 0)" d="M19.3 -16.3 L6 11.2"/><path transform="translate(770 0)" d="M7.3 -27.4 C12.8 -24.5 15 -18 15 -11.7 C15 -5.5 12.8 1 7.3 4"/><g fill="#1e1e1e" stroke="none"><circle cx="363.30" cy="-22.9" r="3.2"/><circle cx="451.40" cy="-1.5" r="3.7"/></g></g>
<text class="c" x="62.8" y="313.9" font-size="36.67">else:</text>
<g transform="translate(62.8 313.9)" fill="none" stroke="#1e1e1e" stroke-width="4.1" stroke-linecap="round" stroke-linejoin="round"><path transform="translate(0 0)" d="M4.5 -7 L18 -12 Q17 -16.3 11 -16.3 Q4.3 -16.3 4.3 -8 Q4.3 0.2 11.5 0.2 Q15.5 0.2 18.2 -3.5"/><path transform="translate(22 0)" d="M6.1 -25.8 L11.5 -25.8 L11.5 0"/><path transform="translate(22 0)" d="M4.1 0 L18.4 0"/><path transform="translate(44 0)" d="M17 -14.3 Q15 -16.5 11.5 -16.5 Q5 -16.5 5 -12.3 Q5 -9 11.5 -8.2 Q18.4 -7.5 18.4 -4 Q18.4 0.3 11.5 0.3 Q7.5 0.3 5 -2.6"/><path transform="translate(66 0)" d="M4.5 -7 L18 -12 Q17 -16.3 11 -16.3 Q4.3 -16.3 4.3 -8 Q4.3 0.2 11.5 0.2 Q15.5 0.2 18.2 -3.5"/><g fill="#1e1e1e" stroke="none"><circle cx="99.40" cy="-13.6" r="3.4"/><circle cx="99.40" cy="-3.0" r="3.4"/></g></g>
<text class="c" x="150.8" y="363.9" font-size="36.67">address = writer.put(key, object)</text>
<g transform="translate(62.8 363.9)" fill="none" stroke="#1e1e1e" stroke-width="4.1" stroke-linecap="round" stroke-linejoin="round"><path transform="translate(88 0)" d="M17.3 -13 Q16 -16.6 11.5 -16.6 Q5.2 -16.6 4.5 -7.5 Q3.9 0.4 8.8 0.4 Q13.5 0.4 16.6 -9"/><path transform="translate(88 0)" d="M17.6 -16.3 L16.2 -4 Q16 0 18.8 0.2"/><path transform="translate(110 0)" d="M18.6 -25.8 L18.6 0"/><path transform="translate(110 0)" d="M18.6 -11 Q17.5 -16.5 11.7 -16.5 Q4.6 -16.5 4.6 -8 Q4.6 0.4 10.8 0.4 Q16.5 0.4 18.6 -6"/><path transform="translate(132 0)" d="M18.6 -25.8 L18.6 0"/><path transform="translate(132 0)" d="M18.6 -11 Q17.5 -16.5 11.7 -16.5 Q4.6 -16.5 4.6 -8 Q4.6 0.4 10.8 0.4 Q16.5 0.4 18.6 -6"/><path transform="translate(154 0)" d="M5.5 -15.9 L5.5 0"/><path transform="translate(154 0)" d="M5.5 -8 Q7 -15.9 13 -15.9 Q16.3 -15.9 16.8 -12.6"/><path transform="translate(176 0)" d="M4.5 -7 L18 -12 Q17 -16.3 11 -16.3 Q4.3 -16.3 4.3 -8 Q4.3 0.2 11.5 0.2 Q15.5 0.2 18.2 -3.5"/><path transform="translate(198 0)" d="M17 -14.3 Q15 -16.5 11.5 -16.5 Q5 -16.5 5 -12.3 Q5 -9 11.5 -8.2 Q18.4 -7.5 18.4 -4 Q18.4 0.3 11.5 0.3 Q7.5 0.3 5 -2.6"/><path transform="translate(220 0)" d="M17 -14.3 Q15 -16.5 11.5 -16.5 Q5 -16.5 5 -12.3 Q5 -9 11.5 -8.2 Q18.4 -7.5 18.4 -4 Q18.4 0.3 11.5 0.3 Q7.5 0.3 5 -2.6"/><path transform="translate(264 0)" d="M4.2 -13.6 L17.8 -13.6"/><path transform="translate(264 0)" d="M4.2 -6.2 L17.8 -6.2"/><path transform="translate(308 0)" d="M2.8 -15.9 L6.4 0.2 L11 -13.6 L16.1 0.2 L19.3 -15.9"/><path transform="translate(330 0)" d="M5.5 -15.9 L5.5 0"/><path transform="translate(330 0)" d="M5.5 -8 Q7 -15.9 13 -15.9 Q16.3 -15.9 16.8 -12.6"/><path transform="translate(352 0)" d="M5.3 -15.9 L11.3 -15.9 L11.3 0"/><path transform="translate(352 0)" d="M4.1 0 L18.2 0"/><path transform="translate(374 0)" d="M7.3 -23.2 L7.3 -6 Q7.3 0.2 13 0.2 Q16 0.2 17.6 -1.5"/><path transform="translate(374 0)" d="M3.7 -16.3 L16.5 -16.3"/><path transform="translate(396 0)" d="M4.5 -7 L18 -12 Q17 -16.3 11 -16.3 Q4.3 -16.3 4.3 -8 Q4.3 0.2 11.5 0.2 Q15.5 0.2 18.2 -3.5"/><path transform="translate(418 0)" d="M5.5 -15.9 L5.5 0"/><path transform="translate(418 0)" d="M5.5 -8 Q7 -15.9 13 -15.9 Q16.3 -15.9 16.8 -12.6"/><path transform="translate(462 0)" d="M5 -17.5 L5 10.3"/><path transform="translate(462 0)" d="M5 -12 Q7 -16.5 11.9 -16.5 Q18.2 -16.5 18.2 -8.1 Q18.2 0.4 11.9 0.4 Q7.5 0.4 5 -3"/><path transform="translate(484 0)" d="M4.9 -16.2 L4.9 -7 Q4.9 0.4 11 0.4 Q16 0.4 17.9 -5"/><path transform="translate(484 0)" d="M17.9 -16.2 L17.9 0"/><path transform="translate(506 0)" d="M7.3 -23.2 L7.3 -6 Q7.3 0.2 13 0.2 Q16 0.2 17.6 -1.5"/><path transform="translate(506 0)" d="M3.7 -16.3 L16.5 -16.3"/><path transform="translate(528 0)" d="M15.5 -27.4 C10 -24.5 7.9 -18 7.9 -11.7 C7.9 -5.5 10 1 15.5 4"/><path transform="translate(550 0)" d="M5.2 -25.8 L5.2 0"/><path transform="translate(550 0)" d="M16.9 -17.2 L6 -9.5"/><path transform="translate(550 0)" d="M9 -11.5 L18.4 0"/><path transform="translate(572 0)" d="M4.5 -7 L18 -12 Q17 -16.3 11 -16.3 Q4.3 -16.3 4.3 -8 Q4.3 0.2 11.5 0.2 Q15.5 0.2 18.2 -3.5"/><path transform="translate(594 0)" d="M4.1 -16.3 L11.5 -2.1"/><path transform="translate(594 0)" d="M19.3 -16.3 L6 11.2"/><path transform="translate(616 0)" d="M12.6 -3 L8.4 7.5"/><path transform="translate(660 0)" d="M4.00 -8.10 A7.2 8.4 0.0 1 1 18.40 -8.10 A7.2 8.4 0.0 1 1 4.00 -8.10 Z"/><path transform="translate(682 0)" d="M5 -25.8 L5 0"/><path transform="translate(682 0)" d="M5 -11 Q6.5 -16.5 12 -16.5 Q18.4 -16.5 18.4 -8.1 Q18.4 0.4 12 0.4 Q7 0.4 5 -4"/><path transform="translate(704 0)" d="M5.8 -16.3 L15 -16.3 L15 3 Q15 9.8 8 9.8 L5 9.8"/><path transform="translate(726 0)" d="M4.5 -7 L18 -12 Q17 -16.3 11 -16.3 Q4.3 -16.3 4.3 -8 Q4.3 0.2 11.5 0.2 Q15.5 0.2 18.2 -3.5"/><path transform="translate(748 0)" d="M17 -13.8 Q15.5 -16.8 12 -16.8 Q5.4 -16.8 4.6 -8 Q3.9 0.4 10.5 0.4 Q14.5 0.4 17.4 -3"/><path transform="translate(770 0)" d="M7.3 -23.2 L7.3 -6 Q7.3 0.2 13 0.2 Q16 0.2 17.6 -1.5"/><path transform="translate(770 0)" d="M3.7 -16.3 L16.5 -16.3"/><path transform="translate(792 0)" d="M7.3 -27.4 C12.8 -24.5 15 -18 15 -11.7 C15 -5.5 12.8 1 7.3 4"/><g fill="#1e1e1e" stroke="none"><circle cx="363.30" cy="-22.9" r="3.2"/><circle cx="451.40" cy="-1.5" r="3.7"/><circle cx="718.80" cy="-22.9" r="3.2"/></g></g>
<text class="c" x="62.8" y="463.9" font-size="36.67">send(address)</text>
<g transform="translate(62.8 463.9)" fill="none" stroke="#1e1e1e" stroke-width="4.1" stroke-linecap="round" stroke-linejoin="round"><path transform="translate(0 0)" d="M17 -14.3 Q15 -16.5 11.5 -16.5 Q5 -16.5 5 -12.3 Q5 -9 11.5 -8.2 Q18.4 -7.5 18.4 -4 Q18.4 0.3 11.5 0.3 Q7.5 0.3 5 -2.6"/><path transform="translate(22 0)" d="M4.5 -7 L18 -12 Q17 -16.3 11 -16.3 Q4.3 -16.3 4.3 -8 Q4.3 0.2 11.5 0.2 Q15.5 0.2 18.2 -3.5"/><path transform="translate(44 0)" d="M5 -16.2 L5 0"/><path transform="translate(44 0)" d="M5 -9 Q6.5 -16.5 12.3 -16.5 Q17.9 -16.5 17.9 -10 L17.9 0"/><path transform="translate(66 0)" d="M18.6 -25.8 L18.6 0"/><path transform="translate(66 0)" d="M18.6 -11 Q17.5 -16.5 11.7 -16.5 Q4.6 -16.5 4.6 -8 Q4.6 0.4 10.8 0.4 Q16.5 0.4 18.6 -6"/><path transform="translate(88 0)" d="M15.5 -27.4 C10 -24.5 7.9 -18 7.9 -11.7 C7.9 -5.5 10 1 15.5 4"/><path transform="translate(110 0)" d="M17.3 -13 Q16 -16.6 11.5 -16.6 Q5.2 -16.6 4.5 -7.5 Q3.9 0.4 8.8 0.4 Q13.5 0.4 16.6 -9"/><path transform="translate(110 0)" d="M17.6 -16.3 L16.2 -4 Q16 0 18.8 0.2"/><path transform="translate(132 0)" d="M18.6 -25.8 L18.6 0"/><path transform="translate(132 0)" d="M18.6 -11 Q17.5 -16.5 11.7 -16.5 Q4.6 -16.5 4.6 -8 Q4.6 0.4 10.8 0.4 Q16.5 0.4 18.6 -6"/><path transform="translate(154 0)" d="M18.6 -25.8 L18.6 0"/><path transform="translate(154 0)" d="M18.6 -11 Q17.5 -16.5 11.7 -16.5 Q4.6 -16.5 4.6 -8 Q4.6 0.4 10.8 0.4 Q16.5 0.4 18.6 -6"/><path transform="translate(176 0)" d="M5.5 -15.9 L5.5 0"/><path transform="translate(176 0)" d="M5.5 -8 Q7 -15.9 13 -15.9 Q16.3 -15.9 16.8 -12.6"/><path transform="translate(198 0)" d="M4.5 -7 L18 -12 Q17 -16.3 11 -16.3 Q4.3 -16.3 4.3 -8 Q4.3 0.2 11.5 0.2 Q15.5 0.2 18.2 -3.5"/><path transform="translate(220 0)" d="M17 -14.3 Q15 -16.5 11.5 -16.5 Q5 -16.5 5 -12.3 Q5 -9 11.5 -8.2 Q18.4 -7.5 18.4 -4 Q18.4 0.3 11.5 0.3 Q7.5 0.3 5 -2.6"/><path transform="translate(242 0)" d="M17 -14.3 Q15 -16.5 11.5 -16.5 Q5 -16.5 5 -12.3 Q5 -9 11.5 -8.2 Q18.4 -7.5 18.4 -4 Q18.4 0.3 11.5 0.3 Q7.5 0.3 5 -2.6"/><path transform="translate(264 0)" d="M7.3 -27.4 C12.8 -24.5 15 -18 15 -11.7 C15 -5.5 12.8 1 7.3 4"/><g fill="#1e1e1e" stroke="none"></g></g>
<text class="c" x="88.8" y="874.8" font-size="36.67">address = recv()</text>
<g transform="translate(88.8 874.8)" fill="none" stroke="#1e1e1e" stroke-width="4.1" stroke-linecap="round" stroke-linejoin="round"><path transform="translate(0 0)" d="M17.3 -13 Q16 -16.6 11.5 -16.6 Q5.2 -16.6 4.5 -7.5 Q3.9 0.4 8.8 0.4 Q13.5 0.4 16.6 -9"/><path transform="translate(0 0)" d="M17.6 -16.3 L16.2 -4 Q16 0 18.8 0.2"/><path transform="translate(22 0)" d="M18.6 -25.8 L18.6 0"/><path transform="translate(22 0)" d="M18.6 -11 Q17.5 -16.5 11.7 -16.5 Q4.6 -16.5 4.6 -8 Q4.6 0.4 10.8 0.4 Q16.5 0.4 18.6 -6"/><path transform="translate(44 0)" d="M18.6 -25.8 L18.6 0"/><path transform="translate(44 0)" d="M18.6 -11 Q17.5 -16.5 11.7 -16.5 Q4.6 -16.5 4.6 -8 Q4.6 0.4 10.8 0.4 Q16.5 0.4 18.6 -6"/><path transform="translate(66 0)" d="M5.5 -15.9 L5.5 0"/><path transform="translate(66 0)" d="M5.5 -8 Q7 -15.9 13 -15.9 Q16.3 -15.9 16.8 -12.6"/><path transform="translate(88 0)" d="M4.5 -7 L18 -12 Q17 -16.3 11 -16.3 Q4.3 -16.3 4.3 -8 Q4.3 0.2 11.5 0.2 Q15.5 0.2 18.2 -3.5"/><path transform="translate(110 0)" d="M17 -14.3 Q15 -16.5 11.5 -16.5 Q5 -16.5 5 -12.3 Q5 -9 11.5 -8.2 Q18.4 -7.5 18.4 -4 Q18.4 0.3 11.5 0.3 Q7.5 0.3 5 -2.6"/><path transform="translate(132 0)" d="M17 -14.3 Q15 -16.5 11.5 -16.5 Q5 -16.5 5 -12.3 Q5 -9 11.5 -8.2 Q18.4 -7.5 18.4 -4 Q18.4 0.3 11.5 0.3 Q7.5 0.3 5 -2.6"/><path transform="translate(176 0)" d="M4.2 -13.6 L17.8 -13.6"/><path transform="translate(176 0)" d="M4.2 -6.2 L17.8 -6.2"/><path transform="translate(220 0)" d="M5.5 -15.9 L5.5 0"/><path transform="translate(220 0)" d="M5.5 -8 Q7 -15.9 13 -15.9 Q16.3 -15.9 16.8 -12.6"/><path transform="translate(242 0)" d="M4.5 -7 L18 -12 Q17 -16.3 11 -16.3 Q4.3 -16.3 4.3 -8 Q4.3 0.2 11.5 0.2 Q15.5 0.2 18.2 -3.5"/><path transform="translate(264 0)" d="M17 -13.8 Q15.5 -16.8 12 -16.8 Q5.4 -16.8 4.6 -8 Q3.9 0.4 10.5 0.4 Q14.5 0.4 17.4 -3"/><path transform="translate(286 0)" d="M4.7 -16 L11.6 0.2 L18.9 -16.2"/><path transform="translate(308 0)" d="M15.5 -27.4 C10 -24.5 7.9 -18 7.9 -11.7 C7.9 -5.5 10 1 15.5 4"/><path transform="translate(330 0)" d="M7.3 -27.4 C12.8 -24.5 15 -18 15 -11.7 C15 -5.5 12.8 1 7.3 4"/><g fill="#1e1e1e" stroke="none"></g></g>
<text class="c" x="88.8" y="974.8" font-size="36.67">object = reader_0.get(address)</text>
<g transform="translate(88.8 974.8)" fill="none" stroke="#1e1e1e" stroke-width="4.1" stroke-linecap="round" stroke-linejoin="round"><path transform="translate(0 0)" d="M4.00 -8.10 A7.2 8.4 0.0 1 1 18.40 -8.10 A7.2 8.4 0.0 1 1 4.00 -8.10 Z"/><path transform="translate(22 0)" d="M5 -25.8 L5 0"/><path transform="translate(22 0)" d="M5 -11 Q6.5 -16.5 12 -16.5 Q18.4 -16.5 18.4 -8.1 Q18.4 0.4 12 0.4 Q7 0.4 5 -4"/><path transform="translate(44 0)" d="M5.8 -16.3 L15 -16.3 L15 3 Q15 9.8 8 9.8 L5 9.8"/><path transform="translate(66 0)" d="M4.5 -7 L18 -12 Q17 -16.3 11 -16.3 Q4.3 -16.3 4.3 -8 Q4.3 0.2 11.5 0.2 Q15.5 0.2 18.2 -3.5"/><path transform="translate(88 0)" d="M17 -13.8 Q15.5 -16.8 12 -16.8 Q5.4 -16.8 4.6 -8 Q3.9 0.4 10.5 0.4 Q14.5 0.4 17.4 -3"/><path transform="translate(110 0)" d="M7.3 -23.2 L7.3 -6 Q7.3 0.2 13 0.2 Q16 0.2 17.6 -1.5"/><path transform="translate(110 0)" d="M3.7 -16.3 L16.5 -16.3"/><path transform="translate(154 0)" d="M4.2 -13.6 L17.8 -13.6"/><path transform="translate(154 0)" d="M4.2 -6.2 L17.8 -6.2"/><path transform="translate(198 0)" d="M5.5 -15.9 L5.5 0"/><path transform="translate(198 0)" d="M5.5 -8 Q7 -15.9 13 -15.9 Q16.3 -15.9 16.8 -12.6"/><path transform="translate(220 0)" d="M4.5 -7 L18 -12 Q17 -16.3 11 -16.3 Q4.3 -16.3 4.3 -8 Q4.3 0.2 11.5 0.2 Q15.5 0.2 18.2 -3.5"/><path transform="translate(242 0)" d="M17.3 -13 Q16 -16.6 11.5 -16.6 Q5.2 -16.6 4.5 -7.5 Q3.9 0.4 8.8 0.4 Q13.5 0.4 16.6 -9"/><path transform="translate(242 0)" d="M17.6 -16.3 L16.2 -4 Q16 0 18.8 0.2"/><path transform="translate(264 0)" d="M18.6 -25.8 L18.6 0"/><path transform="translate(264 0)" d="M18.6 -11 Q17.5 -16.5 11.7 -16.5 Q4.6 -16.5 4.6 -8 Q4.6 0.4 10.8 0.4 Q16.5 0.4 18.6 -6"/><path transform="translate(286 0)" d="M4.5 -7 L18 -12 Q17 -16.3 11 -16.3 Q4.3 -16.3 4.3 -8 Q4.3 0.2 11.5 0.2 Q15.5 0.2 18.2 -3.5"/><path transform="translate(308 0)" d="M5.5 -15.9 L5.5 0"/><path transform="translate(308 0)" d="M5.5 -8 Q7 -15.9 13 -15.9 Q16.3 -15.9 16.8 -12.6"/><path transform="translate(330 0)" d="M3.7 2.9 L18.8 2.9"/><path transform="translate(352 0)" d="M4.30 -12.00 A6.9 12.0 0.0 1 1 18.10 -12.00 A6.9 12.0 0.0 1 1 4.30 -12.00 Z"/><path transform="translate(352 0)" d="M7 -5.5 L15.4 -19"/><path transform="translate(396 0)" d="M17.8 -12.5 Q16.5 -16.6 12 -16.6 Q5.4 -16.6 4.8 -8.5 Q4.2 -0.5 9 -0.5 Q14 -0.5 17.3 -8"/><path transform="translate(396 0)" d="M18.2 -16.6 L17.6 4 Q17.2 10.3 10.5 10.3 Q6.5 10.3 4.6 8.2"/><path transform="translate(418 0)" d="M4.5 -7 L18 -12 Q17 -16.3 11 -16.3 Q4.3 -16.3 4.3 -8 Q4.3 0.2 11.5 0.2 Q15.5 0.2 18.2 -3.5"/><path transform="translate(440 0)" d="M7.3 -23.2 L7.3 -6 Q7.3 0.2 13 0.2 Q16 0.2 17.6 -1.5"/><path transform="translate(440 0)" d="M3.7 -16.3 L16.5 -16.3"/><path transform="translate(462 0)" d="M15.5 -27.4 C10 -24.5 7.9 -18 7.9 -11.7 C7.9 -5.5 10 1 15.5 4"/><path transform="translate(484 0)" d="M17.3 -13 Q16 -16.6 11.5 -16.6 Q5.2 -16.6 4.5 -7.5 Q3.9 0.4 8.8 0.4 Q13.5 0.4 16.6 -9"/><path transform="translate(484 0)" d="M17.6 -16.3 L16.2 -4 Q16 0 18.8 0.2"/><path transform="translate(506 0)" d="M18.6 -25.8 L18.6 0"/><path transform="translate(506 0)" d="M18.6 -11 Q17.5 -16.5 11.7 -16.5 Q4.6 -16.5 4.6 -8 Q4.6 0.4 10.8 0.4 Q16.5 0.4 18.6 -6"/><path transform="translate(528 0)" d="M18.6 -25.8 L18.6 0"/><path transform="translate(528 0)" d="M18.6 -11 Q17.5 -16.5 11.7 -16.5 Q4.6 -16.5 4.6 -8 Q4.6 0.4 10.8 0.4 Q16.5 0.4 18.6 -6"/><path transform="translate(550 0)" d="M5.5 -15.9 L5.5 0"/><path transform="translate(550 0)" d="M5.5 -8 Q7 -15.9 13 -15.9 Q16.3 -15.9 16.8 -12.6"/><path transform="translate(572 0)" d="M4.5 -7 L18 -12 Q17 -16.3 11 -16.3 Q4.3 -16.3 4.3 -8 Q4.3 0.2 11.5 0.2 Q15.5 0.2 18.2 -3.5"/><path transform="translate(594 0)" d="M17 -14.3 Q15 -16.5 11.5 -16.5 Q5 -16.5 5 -12.3 Q5 -9 11.5 -8.2 Q18.4 -7.5 18.4 -4 Q18.4 0.3 11.5 0.3 Q7.5 0.3 5 -2.6"/><path transform="translate(616 0)" d="M17 -14.3 Q15 -16.5 11.5 -16.5 Q5 -16.5 5 -12.3 Q5 -9 11.5 -8.2 Q18.4 -7.5 18.4 -4 Q18.4 0.3 11.5 0.3 Q7.5 0.3 5 -2.6"/><path transform="translate(638 0)" d="M7.3 -27.4 C12.8 -24.5 15 -18 15 -11.7 C15 -5.5 12.8 1 7.3 4"/><g fill="#1e1e1e" stroke="none"><circle cx="58.80" cy="-22.9" r="3.2"/><circle cx="385.40" cy="-1.5" r="3.7"/></g></g>
</svg>
</body></html>
